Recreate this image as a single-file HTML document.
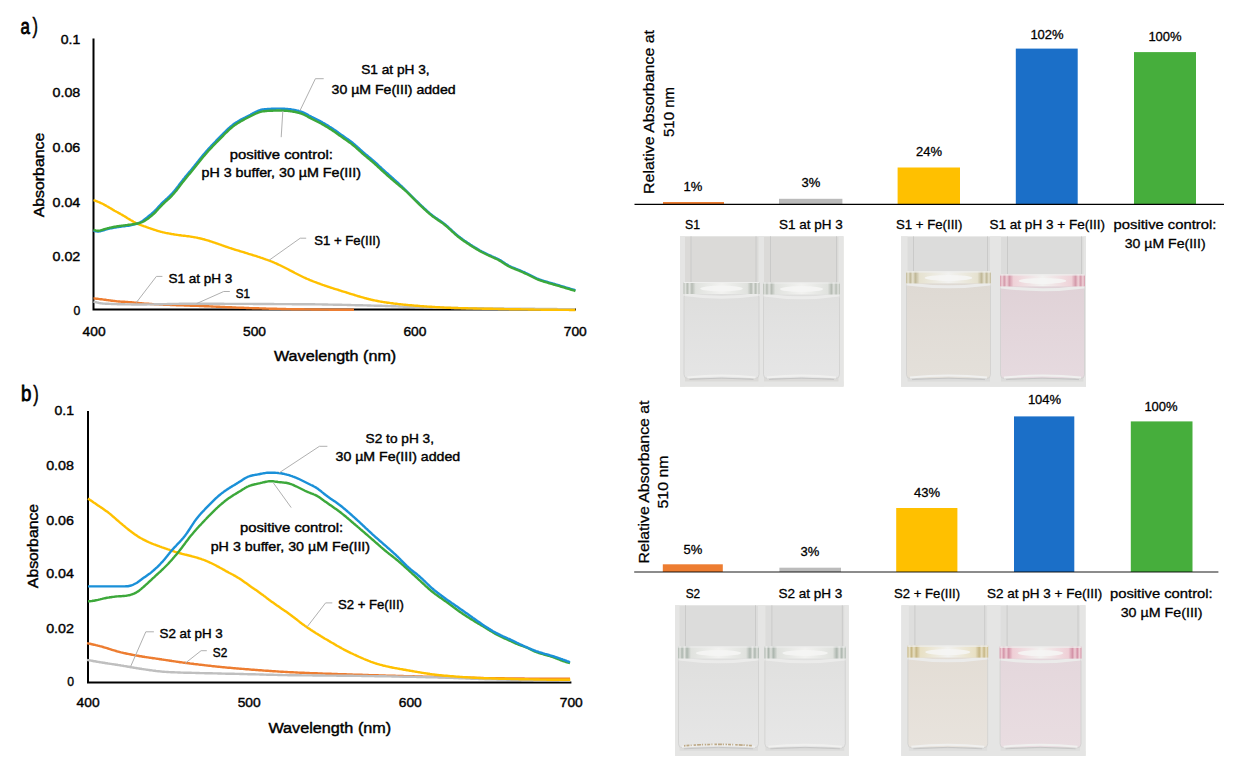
<!DOCTYPE html>
<html><head><meta charset="utf-8">
<style>
html,body{margin:0;padding:0;background:#fff;}
body{width:1243px;height:772px;position:relative;overflow:hidden;font-family:"Liberation Sans",sans-serif;}
svg{position:absolute;left:0;top:0;}
svg text{font-family:"Liberation Sans",sans-serif;}
.ph{position:absolute;background:linear-gradient(90deg,#e2e2e2 0,#dadada 6%,#d8d8d8 50%,#dadada 94%,#e0e0e0 100%);overflow:hidden;}
.vial{position:absolute;top:0;bottom:4px;border-left:1px solid #c4c4c4;border-right:1px solid #c4c4c4;box-sizing:border-box;}
.liq{position:absolute;}
.men{position:absolute;height:12px;}
</style></head><body>
<svg width="1243" height="772" viewBox="0 0 1243 772">
<defs><linearGradient id="lqp1_0" x1="0" y1="0" x2="0" y2="1"><stop offset="0" stop-color="#dededd"/><stop offset="1" stop-color="#e5e5e5"/></linearGradient><linearGradient id="rmp1_0" x1="0" y1="0" x2="1" y2="0"><stop offset="0" stop-color="#b6bcb4"/><stop offset="0.025" stop-color="#e0e2de"/><stop offset="0.05" stop-color="#b6bcb4"/><stop offset="0.08" stop-color="#e0e2de"/><stop offset="0.11" stop-color="#b6bcb4"/><stop offset="0.16" stop-color="#e0e2de"/><stop offset="0.5" stop-color="#f2f2f0"/><stop offset="0.84" stop-color="#e0e2de"/><stop offset="0.89" stop-color="#b6bcb4"/><stop offset="0.92" stop-color="#e0e2de"/><stop offset="0.95" stop-color="#b6bcb4"/><stop offset="0.975" stop-color="#e0e2de"/><stop offset="1" stop-color="#b6bcb4"/></linearGradient><linearGradient id="lqp1_1" x1="0" y1="0" x2="0" y2="1"><stop offset="0" stop-color="#dfdfde"/><stop offset="1" stop-color="#e6e6e6"/></linearGradient><linearGradient id="rmp1_1" x1="0" y1="0" x2="1" y2="0"><stop offset="0" stop-color="#b6bcb4"/><stop offset="0.025" stop-color="#e0e2de"/><stop offset="0.05" stop-color="#b6bcb4"/><stop offset="0.08" stop-color="#e0e2de"/><stop offset="0.11" stop-color="#b6bcb4"/><stop offset="0.16" stop-color="#e0e2de"/><stop offset="0.5" stop-color="#f2f2f0"/><stop offset="0.84" stop-color="#e0e2de"/><stop offset="0.89" stop-color="#b6bcb4"/><stop offset="0.92" stop-color="#e0e2de"/><stop offset="0.95" stop-color="#b6bcb4"/><stop offset="0.975" stop-color="#e0e2de"/><stop offset="1" stop-color="#b6bcb4"/></linearGradient><linearGradient id="lqp2_0" x1="0" y1="0" x2="0" y2="1"><stop offset="0" stop-color="#ded9d3"/><stop offset="1" stop-color="#e4e0da"/></linearGradient><linearGradient id="rmp2_0" x1="0" y1="0" x2="1" y2="0"><stop offset="0" stop-color="#c0b898"/><stop offset="0.025" stop-color="#e6e2d0"/><stop offset="0.05" stop-color="#c0b898"/><stop offset="0.08" stop-color="#e6e2d0"/><stop offset="0.11" stop-color="#c0b898"/><stop offset="0.16" stop-color="#e6e2d0"/><stop offset="0.5" stop-color="#f2f2f0"/><stop offset="0.84" stop-color="#e6e2d0"/><stop offset="0.89" stop-color="#c0b898"/><stop offset="0.92" stop-color="#e6e2d0"/><stop offset="0.95" stop-color="#c0b898"/><stop offset="0.975" stop-color="#e6e2d0"/><stop offset="1" stop-color="#c0b898"/></linearGradient><linearGradient id="lqp2_1" x1="0" y1="0" x2="0" y2="1"><stop offset="0" stop-color="#e0d2d7"/><stop offset="1" stop-color="#e6dadf"/></linearGradient><linearGradient id="rmp2_1" x1="0" y1="0" x2="1" y2="0"><stop offset="0" stop-color="#d49aaa"/><stop offset="0.025" stop-color="#efd2d8"/><stop offset="0.05" stop-color="#d49aaa"/><stop offset="0.08" stop-color="#efd2d8"/><stop offset="0.11" stop-color="#d49aaa"/><stop offset="0.16" stop-color="#efd2d8"/><stop offset="0.5" stop-color="#f2f2f0"/><stop offset="0.84" stop-color="#efd2d8"/><stop offset="0.89" stop-color="#d49aaa"/><stop offset="0.92" stop-color="#efd2d8"/><stop offset="0.95" stop-color="#d49aaa"/><stop offset="0.975" stop-color="#efd2d8"/><stop offset="1" stop-color="#d49aaa"/></linearGradient><linearGradient id="lqp3_0" x1="0" y1="0" x2="0" y2="1"><stop offset="0" stop-color="#dfdfde"/><stop offset="1" stop-color="#e6e6e6"/></linearGradient><linearGradient id="rmp3_0" x1="0" y1="0" x2="1" y2="0"><stop offset="0" stop-color="#acb6ae"/><stop offset="0.025" stop-color="#e0e2de"/><stop offset="0.05" stop-color="#acb6ae"/><stop offset="0.08" stop-color="#e0e2de"/><stop offset="0.11" stop-color="#acb6ae"/><stop offset="0.16" stop-color="#e0e2de"/><stop offset="0.5" stop-color="#f2f2f0"/><stop offset="0.84" stop-color="#e0e2de"/><stop offset="0.89" stop-color="#acb6ae"/><stop offset="0.92" stop-color="#e0e2de"/><stop offset="0.95" stop-color="#acb6ae"/><stop offset="0.975" stop-color="#e0e2de"/><stop offset="1" stop-color="#acb6ae"/></linearGradient><linearGradient id="lqp3_1" x1="0" y1="0" x2="0" y2="1"><stop offset="0" stop-color="#e0e0df"/><stop offset="1" stop-color="#e7e7e7"/></linearGradient><linearGradient id="rmp3_1" x1="0" y1="0" x2="1" y2="0"><stop offset="0" stop-color="#acb6ae"/><stop offset="0.025" stop-color="#e0e2de"/><stop offset="0.05" stop-color="#acb6ae"/><stop offset="0.08" stop-color="#e0e2de"/><stop offset="0.11" stop-color="#acb6ae"/><stop offset="0.16" stop-color="#e0e2de"/><stop offset="0.5" stop-color="#f2f2f0"/><stop offset="0.84" stop-color="#e0e2de"/><stop offset="0.89" stop-color="#acb6ae"/><stop offset="0.92" stop-color="#e0e2de"/><stop offset="0.95" stop-color="#acb6ae"/><stop offset="0.975" stop-color="#e0e2de"/><stop offset="1" stop-color="#acb6ae"/></linearGradient><linearGradient id="lqp4_0" x1="0" y1="0" x2="0" y2="1"><stop offset="0" stop-color="#e3ddd5"/><stop offset="1" stop-color="#e8e3dd"/></linearGradient><linearGradient id="rmp4_0" x1="0" y1="0" x2="1" y2="0"><stop offset="0" stop-color="#c6b684"/><stop offset="0.025" stop-color="#e8e0c4"/><stop offset="0.05" stop-color="#c6b684"/><stop offset="0.08" stop-color="#e8e0c4"/><stop offset="0.11" stop-color="#c6b684"/><stop offset="0.16" stop-color="#e8e0c4"/><stop offset="0.5" stop-color="#f2f2f0"/><stop offset="0.84" stop-color="#e8e0c4"/><stop offset="0.89" stop-color="#c6b684"/><stop offset="0.92" stop-color="#e8e0c4"/><stop offset="0.95" stop-color="#c6b684"/><stop offset="0.975" stop-color="#e8e0c4"/><stop offset="1" stop-color="#c6b684"/></linearGradient><linearGradient id="lqp4_1" x1="0" y1="0" x2="0" y2="1"><stop offset="0" stop-color="#e4d7dc"/><stop offset="1" stop-color="#e9dde1"/></linearGradient><linearGradient id="rmp4_1" x1="0" y1="0" x2="1" y2="0"><stop offset="0" stop-color="#d494a8"/><stop offset="0.025" stop-color="#efcfd6"/><stop offset="0.05" stop-color="#d494a8"/><stop offset="0.08" stop-color="#efcfd6"/><stop offset="0.11" stop-color="#d494a8"/><stop offset="0.16" stop-color="#efcfd6"/><stop offset="0.5" stop-color="#f2f2f0"/><stop offset="0.84" stop-color="#efcfd6"/><stop offset="0.89" stop-color="#d494a8"/><stop offset="0.92" stop-color="#efcfd6"/><stop offset="0.95" stop-color="#d494a8"/><stop offset="0.975" stop-color="#efcfd6"/><stop offset="1" stop-color="#d494a8"/></linearGradient></defs><rect x="680" y="236.3" width="163.5" height="150.2" fill="#dbdad8"/>
<rect x="680" y="236.3" width="5.0" height="150.2" fill="#e5e5e4"/>
<rect x="838.5" y="236.3" width="5.0" height="150.2" fill="#e5e5e4"/>
<rect x="758.5" y="236.3" width="5.5" height="150.2" fill="#e5e5e4"/>
<rect x="680" y="381.5" width="163.5" height="5" fill="#e5e5e4"/>
<path d="M691.0 236.3 V282.0 M756.0 236.3 V282.0" stroke="#cacac9" stroke-width="1" fill="none"/>
<rect x="684.0" y="293.0" width="75.0" height="85.5" rx="4" fill="url(#lqp1_0)" stroke="#cfcfce" stroke-width="0.8"/>
<path d="M687.5 377.5 Q721.5 373.5 755.5 377.5" stroke="#f0f0ef" stroke-width="2" fill="none"/>
<path d="M689.5 379.5 Q721.5 376.5 753.5 379.5" stroke="#c2c2c1" stroke-width="0.8" fill="none"/>
<path d="M684.5 294.5 Q721.5 300.0 758.5 294.5" stroke="#ebebea" stroke-width="3" fill="none"/>
<rect x="683.5" y="282.0" width="76.0" height="12" fill="url(#rmp1_0)"/>
<ellipse cx="721.5" cy="288.5" rx="21.3" ry="3" fill="#f6f6f4" opacity="0.85"/>
<path d="M683.5 282.5 H759.5" stroke="#eeeeed" stroke-width="1.2"/>
<path d="M770.5 236.3 V282.5 M836.5 236.3 V282.5" stroke="#cacac9" stroke-width="1" fill="none"/>
<rect x="763.5" y="293.5" width="76.0" height="85.0" rx="4" fill="url(#lqp1_1)" stroke="#cfcfce" stroke-width="0.8"/>
<path d="M767.0 377.5 Q801.5 373.5 836.0 377.5" stroke="#f0f0ef" stroke-width="2" fill="none"/>
<path d="M769.0 379.5 Q801.5 376.5 834.0 379.5" stroke="#c2c2c1" stroke-width="0.8" fill="none"/>
<path d="M764.0 295.0 Q801.5 300.5 839.0 295.0" stroke="#ebebea" stroke-width="3" fill="none"/>
<rect x="763.0" y="282.5" width="77.0" height="12" fill="url(#rmp1_1)"/>
<ellipse cx="801.5" cy="289.0" rx="21.6" ry="3" fill="#f6f6f4" opacity="0.85"/>
<path d="M763.0 283.0 H840.0" stroke="#eeeeed" stroke-width="1.2"/>
<rect x="901" y="236.4" width="185.0" height="150.2" fill="#dcdcdb"/>
<rect x="901" y="236.4" width="6.5" height="150.2" fill="#e5e5e4"/>
<rect x="1083.5" y="236.4" width="2.5" height="150.2" fill="#e5e5e4"/>
<rect x="990" y="236.4" width="11.0" height="150.2" fill="#e5e5e4"/>
<rect x="901" y="381.6" width="185.0" height="5" fill="#e5e5e4"/>
<path d="M913.5 236.4 V271.4 M987.5 236.4 V271.4" stroke="#cacac9" stroke-width="1" fill="none"/>
<rect x="906.5" y="282.4" width="84.0" height="96.2" rx="4" fill="url(#lqp2_0)" stroke="#cfcfce" stroke-width="0.8"/>
<path d="M910.0 377.6 Q948.5 373.6 987.0 377.6" stroke="#f0f0ef" stroke-width="2" fill="none"/>
<path d="M912.0 379.6 Q948.5 376.6 985.0 379.6" stroke="#c2c2c1" stroke-width="0.8" fill="none"/>
<path d="M907.0 283.9 Q948.5 289.4 990.0 283.9" stroke="#ebebea" stroke-width="3" fill="none"/>
<rect x="906.0" y="271.4" width="85.0" height="12" fill="url(#rmp2_0)"/>
<ellipse cx="948.5" cy="277.9" rx="23.8" ry="3" fill="#f6f6f4" opacity="0.85"/>
<path d="M906.0 271.9 H991.0" stroke="#eeeeed" stroke-width="1.2"/>
<path d="M1007.5 236.4 V274.4 M1081.5 236.4 V274.4" stroke="#cacac9" stroke-width="1" fill="none"/>
<rect x="1000.5" y="285.4" width="84.0" height="93.2" rx="4" fill="url(#lqp2_1)" stroke="#cfcfce" stroke-width="0.8"/>
<path d="M1004.0 377.6 Q1042.5 373.6 1081.0 377.6" stroke="#f0f0ef" stroke-width="2" fill="none"/>
<path d="M1006.0 379.6 Q1042.5 376.6 1079.0 379.6" stroke="#c2c2c1" stroke-width="0.8" fill="none"/>
<path d="M1001.0 286.9 Q1042.5 292.4 1084.0 286.9" stroke="#ebebea" stroke-width="3" fill="none"/>
<rect x="1000.0" y="274.4" width="85.0" height="12" fill="url(#rmp2_1)"/>
<ellipse cx="1042.5" cy="280.9" rx="23.8" ry="3" fill="#f6f6f4" opacity="0.85"/>
<path d="M1000.0 274.9 H1085.0" stroke="#eeeeed" stroke-width="1.2"/>
<rect x="675" y="605.3" width="173.7" height="150.5" fill="#dcdcdb"/>
<rect x="675" y="605.3" width="4.5" height="150.5" fill="#e5e5e4"/>
<rect x="844.3" y="605.3" width="4.4" height="150.5" fill="#e5e5e4"/>
<rect x="758" y="605.3" width="7.4" height="150.5" fill="#e5e5e4"/>
<rect x="675" y="750.8" width="173.7" height="5" fill="#e5e5e4"/>
<path d="M685.5 605.3 V646.5 M755.5 605.3 V646.5" stroke="#cacac9" stroke-width="1" fill="none"/>
<rect x="678.5" y="657.5" width="80.0" height="90.3" rx="4" fill="url(#lqp3_0)" stroke="#cfcfce" stroke-width="0.8"/>
<path d="M682.0 746.8 Q718.5 742.8 755.0 746.8" stroke="#f0f0ef" stroke-width="2" fill="none"/>
<path d="M684.0 748.8 Q718.5 745.8 753.0 748.8" stroke="#c2c2c1" stroke-width="0.8" fill="none"/>
<path d="M679.0 659.0 Q718.5 664.5 758.0 659.0" stroke="#ebebea" stroke-width="3" fill="none"/>
<rect x="678.0" y="646.5" width="81.0" height="12" fill="url(#rmp3_0)"/>
<ellipse cx="718.5" cy="653.0" rx="22.7" ry="3" fill="#f6f6f4" opacity="0.85"/>
<path d="M678.0 647.0 H759.0" stroke="#eeeeed" stroke-width="1.2"/>
<path d="M771.9 605.3 V646.5 M842.3 605.3 V646.5" stroke="#cacac9" stroke-width="1" fill="none"/>
<rect x="764.9" y="657.5" width="80.4" height="90.3" rx="4" fill="url(#lqp3_1)" stroke="#cfcfce" stroke-width="0.8"/>
<path d="M768.4 746.8 Q805.1 742.8 841.8 746.8" stroke="#f0f0ef" stroke-width="2" fill="none"/>
<path d="M770.4 748.8 Q805.1 745.8 839.8 748.8" stroke="#c2c2c1" stroke-width="0.8" fill="none"/>
<path d="M765.4 659.0 Q805.1 664.5 844.8 659.0" stroke="#ebebea" stroke-width="3" fill="none"/>
<rect x="764.4" y="646.5" width="81.4" height="12" fill="url(#rmp3_1)"/>
<ellipse cx="805.1" cy="653.0" rx="22.8" ry="3" fill="#f6f6f4" opacity="0.85"/>
<path d="M764.4 647.0 H845.8" stroke="#eeeeed" stroke-width="1.2"/>
<rect x="901.4" y="605.3" width="184.1" height="150.5" fill="#dededd"/>
<rect x="901.4" y="605.3" width="7.5" height="150.5" fill="#e5e5e4"/>
<rect x="1080.0" y="605.3" width="5.5" height="150.5" fill="#e5e5e4"/>
<rect x="987.2" y="605.3" width="13.4" height="150.5" fill="#e5e5e4"/>
<rect x="901.4" y="750.8" width="184.1" height="5" fill="#e5e5e4"/>
<path d="M914.9 605.3 V645.6 M984.7 605.3 V645.6" stroke="#cacac9" stroke-width="1" fill="none"/>
<rect x="907.9" y="656.6" width="79.8" height="91.2" rx="4" fill="url(#lqp4_0)" stroke="#cfcfce" stroke-width="0.8"/>
<path d="M911.4 746.8 Q947.8 742.8 984.2 746.8" stroke="#f0f0ef" stroke-width="2" fill="none"/>
<path d="M913.4 748.8 Q947.8 745.8 982.2 748.8" stroke="#c2c2c1" stroke-width="0.8" fill="none"/>
<path d="M908.4 658.1 Q947.8 663.6 987.2 658.1" stroke="#ebebea" stroke-width="3" fill="none"/>
<rect x="907.4" y="645.6" width="80.8" height="12" fill="url(#rmp4_0)"/>
<ellipse cx="947.8" cy="652.1" rx="22.6" ry="3" fill="#f6f6f4" opacity="0.85"/>
<path d="M907.4 646.1 H988.2" stroke="#eeeeed" stroke-width="1.2"/>
<path d="M1007.1 605.3 V646.6 M1078.0 605.3 V646.6" stroke="#cacac9" stroke-width="1" fill="none"/>
<rect x="1000.1" y="657.6" width="80.9" height="90.2" rx="4" fill="url(#lqp4_1)" stroke="#cfcfce" stroke-width="0.8"/>
<path d="M1003.6 746.8 Q1040.5 742.8 1077.5 746.8" stroke="#f0f0ef" stroke-width="2" fill="none"/>
<path d="M1005.6 748.8 Q1040.5 745.8 1075.5 748.8" stroke="#c2c2c1" stroke-width="0.8" fill="none"/>
<path d="M1000.6 659.1 Q1040.5 664.6 1080.5 659.1" stroke="#ebebea" stroke-width="3" fill="none"/>
<rect x="999.6" y="646.6" width="81.9" height="12" fill="url(#rmp4_1)"/>
<ellipse cx="1040.5" cy="653.1" rx="22.9" ry="3" fill="#f6f6f4" opacity="0.85"/>
<path d="M999.6 647.1 H1081.5" stroke="#eeeeed" stroke-width="1.2"/>
<path d="M684 745.8 Q718 743 753 745.8" stroke="#bca886" stroke-width="1.7" stroke-dasharray="1.5 1 3 1.2 1 2 2.5 1 4 0.8 1.2 1.6" fill="none"/><text x="20.6" y="33.6" font-size="21.5" text-anchor="start" font-weight="normal" fill="#000" textLength="9.4" lengthAdjust="spacingAndGlyphs" stroke="#000" stroke-width="0.8">a</text>
<text x="32.4" y="33.4" font-size="21.5" text-anchor="start" font-weight="normal" fill="#000" textLength="5.5" lengthAdjust="spacingAndGlyphs" stroke="#000" stroke-width="0.5">)</text>
<text x="80.3" y="43.7" font-size="12.8" text-anchor="end" font-weight="normal" fill="#000" textLength="19.5" lengthAdjust="spacingAndGlyphs" stroke="#000" stroke-width="0.4">0.1</text>
<text x="80.3" y="97" font-size="12.8" text-anchor="end" font-weight="normal" fill="#000" textLength="27.8" lengthAdjust="spacingAndGlyphs" stroke="#000" stroke-width="0.4">0.08</text>
<text x="80.3" y="152" font-size="12.8" text-anchor="end" font-weight="normal" fill="#000" textLength="27.8" lengthAdjust="spacingAndGlyphs" stroke="#000" stroke-width="0.4">0.06</text>
<text x="80.3" y="207.1" font-size="12.8" text-anchor="end" font-weight="normal" fill="#000" textLength="27.8" lengthAdjust="spacingAndGlyphs" stroke="#000" stroke-width="0.4">0.04</text>
<text x="80.3" y="260.5" font-size="12.8" text-anchor="end" font-weight="normal" fill="#000" textLength="27.8" lengthAdjust="spacingAndGlyphs" stroke="#000" stroke-width="0.4">0.02</text>
<text x="80.3" y="315.3" font-size="12.8" text-anchor="end" font-weight="normal" fill="#000" textLength="6.8" lengthAdjust="spacingAndGlyphs" stroke="#000" stroke-width="0.4">0</text>
<text x="94.1" y="335.9" font-size="12.8" text-anchor="middle" font-weight="normal" fill="#000" textLength="23" lengthAdjust="spacingAndGlyphs" stroke="#000" stroke-width="0.4">400</text>
<text x="254.5" y="335.9" font-size="12.8" text-anchor="middle" font-weight="normal" fill="#000" textLength="23" lengthAdjust="spacingAndGlyphs" stroke="#000" stroke-width="0.4">500</text>
<text x="414.9" y="335.9" font-size="12.8" text-anchor="middle" font-weight="normal" fill="#000" textLength="23" lengthAdjust="spacingAndGlyphs" stroke="#000" stroke-width="0.4">600</text>
<text x="575.3000000000001" y="335.9" font-size="12.8" text-anchor="middle" font-weight="normal" fill="#000" textLength="23" lengthAdjust="spacingAndGlyphs" stroke="#000" stroke-width="0.4">700</text>
<text x="335.1" y="360.8" font-size="14" text-anchor="middle" font-weight="normal" fill="#000" textLength="122.2" lengthAdjust="spacingAndGlyphs" stroke="#000" stroke-width="0.4">Wavelength (nm)</text>
<text transform="translate(43.6,175) rotate(-90)" font-size="14" stroke="#000" stroke-width="0.4" text-anchor="middle" textLength="84.5" lengthAdjust="spacingAndGlyphs">Absorbance</text>
<path d="M93.5 38.5 V309.6 H576" fill="none" stroke="#000" stroke-width="2"/>
<path d="M93.5 298.3 L94.5 298.4 L95.5 298.6 L96.5 298.7 L97.5 298.8 L98.5 298.9 L99.5 299.1 L100.5 299.2 L101.5 299.3 L102.5 299.4 L103.5 299.6 L104.5 299.7 L105.5 299.8 L106.5 300.0 L107.5 300.1 L108.5 300.2 L109.5 300.4 L110.5 300.5 L111.5 300.7 L112.5 300.8 L113.5 300.9 L114.5 301.0 L115.5 301.1 L116.5 301.3 L117.5 301.4 L118.5 301.5 L119.5 301.5 L120.5 301.6 L121.5 301.7 L122.5 301.7 L123.5 301.8 L124.5 301.8 L125.5 301.9 L126.5 301.9 L127.5 302.0 L128.5 302.1 L129.5 302.1 L130.5 302.2 L131.5 302.3 L132.5 302.4 L133.5 302.5 L134.5 302.6 L135.5 302.7 L136.5 302.8 L137.5 302.9 L138.5 303.0 L139.5 303.1 L140.5 303.2 L141.5 303.3 L142.5 303.4 L143.5 303.5 L144.5 303.6 L145.5 303.6 L146.5 303.7 L147.5 303.8 L148.5 303.8 L149.5 303.9 L150.5 304.0 L151.5 304.0 L152.5 304.1 L153.5 304.1 L154.5 304.2 L155.5 304.3 L156.5 304.3 L157.5 304.4 L158.5 304.4 L159.5 304.5 L160.5 304.5 L161.5 304.6 L162.5 304.6 L163.5 304.7 L164.5 304.7 L165.5 304.8 L166.5 304.8 L167.5 304.8 L168.5 304.9 L169.5 304.9 L170.5 305.0 L171.5 305.0 L172.5 305.0 L173.5 305.1 L174.5 305.1 L175.5 305.1 L176.5 305.2 L177.5 305.2 L178.5 305.2 L179.5 305.3 L180.5 305.3 L181.5 305.4 L182.5 305.4 L183.5 305.4 L184.5 305.5 L185.5 305.5 L186.5 305.5 L187.5 305.6 L188.5 305.6 L189.5 305.6 L190.5 305.7 L191.5 305.7 L192.5 305.7 L193.5 305.8 L194.5 305.8 L195.5 305.8 L196.5 305.9 L197.5 305.9 L198.5 305.9 L199.5 306.0 L200.5 306.0 L201.5 306.1 L202.5 306.1 L203.5 306.1 L204.5 306.2 L205.5 306.2 L206.5 306.3 L207.5 306.3 L208.5 306.3 L209.5 306.4 L210.5 306.4 L211.5 306.5 L212.5 306.5 L213.5 306.6 L214.5 306.6 L215.5 306.6 L216.5 306.7 L217.5 306.7 L218.5 306.8 L219.5 306.8 L220.5 306.9 L221.5 306.9 L222.5 307.0 L223.5 307.0 L224.5 307.0 L225.5 307.1 L226.5 307.1 L227.5 307.2 L228.5 307.2 L229.5 307.3 L230.5 307.3 L231.5 307.3 L232.5 307.4 L233.5 307.4 L234.5 307.5 L235.5 307.5 L236.5 307.6 L237.5 307.6 L238.5 307.6 L239.5 307.7 L240.5 307.7 L241.5 307.8 L242.5 307.8 L243.5 307.8 L244.5 307.9 L245.5 307.9 L246.5 308.0 L247.5 308.0 L248.5 308.0 L249.5 308.1 L250.5 308.1 L251.5 308.1 L252.5 308.2 L253.5 308.2 L254.5 308.2 L255.5 308.3 L256.5 308.3 L257.5 308.3 L258.5 308.3 L259.5 308.4 L260.5 308.4 L261.5 308.4 L262.5 308.5 L263.5 308.5 L264.5 308.5 L265.5 308.5 L266.5 308.6 L267.5 308.6 L268.5 308.6 L269.5 308.7 L270.5 308.7 L271.5 308.7 L272.5 308.7 L273.5 308.8 L274.5 308.8 L275.5 308.8 L276.5 308.8 L277.5 308.9 L278.5 308.9 L279.5 308.9 L280.5 308.9 L281.5 309.0 L282.5 309.0 L283.5 309.0 L284.5 309.0 L285.5 309.0 L286.5 309.1 L287.5 309.1 L288.5 309.1 L289.5 309.1 L290.5 309.1 L291.5 309.2 L292.5 309.2 L293.5 309.2 L294.5 309.2 L295.5 309.2 L296.5 309.2 L297.5 309.3 L298.5 309.3 L299.5 309.3 L300.5 309.3 L301.5 309.3 L302.5 309.3 L303.5 309.3 L304.5 309.4 L305.5 309.4 L306.5 309.4 L307.5 309.4 L308.5 309.4 L309.5 309.4 L310.5 309.4 L311.5 309.5 L312.5 309.5 L313.5 309.5 L314.5 309.5 L315.5 309.5 L316.5 309.5 L317.5 309.5 L318.5 309.5 L319.5 309.5 L320.5 309.6 L321.5 309.6 L322.5 309.6 L323.5 309.6 L324.5 309.6 L325.5 309.6 L326.5 309.6 L327.5 309.6 L328.5 309.6 L329.5 309.7 L330.5 309.7 L331.5 309.7 L332.5 309.7 L333.5 309.7 L334.5 309.7 L335.5 309.7 L336.5 309.7 L337.5 309.7 L338.5 309.7 L339.5 309.7 L340.5 309.7 L341.5 309.8 L342.5 309.8 L343.5 309.8 L344.5 309.8 L345.5 309.8 L346.5 309.8 L347.5 309.8 L348.5 309.8 L349.5 309.8 L350.5 309.8 L351.5 309.8 L352.5 309.8 L353.5 309.8 L354.0 309.8" fill="none" stroke="#ED7D31" stroke-width="2.4" stroke-linejoin="round"/>
<path d="M93.5 301.5 L94.5 301.8 L95.5 302.1 L96.5 302.3 L97.5 302.6 L98.5 302.8 L99.5 303.1 L100.5 303.2 L101.5 303.4 L102.5 303.5 L103.5 303.6 L104.5 303.6 L105.5 303.7 L106.5 303.7 L107.5 303.8 L108.5 303.8 L109.5 303.9 L110.5 303.9 L111.5 304.0 L112.5 304.0 L113.5 304.0 L114.5 304.1 L115.5 304.1 L116.5 304.1 L117.5 304.2 L118.5 304.2 L119.5 304.2 L120.5 304.3 L121.5 304.3 L122.5 304.3 L123.5 304.3 L124.5 304.3 L125.5 304.4 L126.5 304.4 L127.5 304.4 L128.5 304.4 L129.5 304.4 L130.5 304.4 L131.5 304.5 L132.5 304.5 L133.5 304.5 L134.5 304.5 L135.5 304.5 L136.5 304.5 L137.5 304.5 L138.5 304.5 L139.5 304.5 L140.5 304.5 L141.5 304.5 L142.5 304.5 L143.5 304.5 L144.5 304.5 L145.5 304.5 L146.5 304.5 L147.5 304.4 L148.5 304.4 L149.5 304.4 L150.5 304.4 L151.5 304.4 L152.5 304.4 L153.5 304.4 L154.5 304.3 L155.5 304.3 L156.5 304.3 L157.5 304.3 L158.5 304.3 L159.5 304.2 L160.5 304.2 L161.5 304.2 L162.5 304.2 L163.5 304.1 L164.5 304.1 L165.5 304.1 L166.5 304.1 L167.5 304.0 L168.5 304.0 L169.5 304.0 L170.5 304.0 L171.5 304.0 L172.5 303.9 L173.5 303.9 L174.5 303.9 L175.5 303.9 L176.5 303.9 L177.5 303.9 L178.5 303.9 L179.5 303.8 L180.5 303.8 L181.5 303.8 L182.5 303.8 L183.5 303.8 L184.5 303.8 L185.5 303.8 L186.5 303.8 L187.5 303.8 L188.5 303.8 L189.5 303.8 L190.5 303.8 L191.5 303.8 L192.5 303.8 L193.5 303.8 L194.5 303.8 L195.5 303.8 L196.5 303.8 L197.5 303.8 L198.5 303.8 L199.5 303.8 L200.5 303.8 L201.5 303.8 L202.5 303.8 L203.5 303.8 L204.5 303.8 L205.5 303.8 L206.5 303.8 L207.5 303.8 L208.5 303.8 L209.5 303.8 L210.5 303.8 L211.5 303.8 L212.5 303.8 L213.5 303.8 L214.5 303.8 L215.5 303.8 L216.5 303.8 L217.5 303.8 L218.5 303.8 L219.5 303.8 L220.5 303.8 L221.5 303.8 L222.5 303.8 L223.5 303.8 L224.5 303.9 L225.5 303.9 L226.5 303.9 L227.5 303.9 L228.5 303.9 L229.5 303.9 L230.5 303.9 L231.5 303.9 L232.5 303.9 L233.5 303.9 L234.5 303.9 L235.5 303.9 L236.5 303.9 L237.5 303.9 L238.5 303.9 L239.5 303.9 L240.5 303.9 L241.5 303.9 L242.5 303.9 L243.5 303.9 L244.5 303.9 L245.5 303.9 L246.5 303.9 L247.5 303.9 L248.5 303.9 L249.5 303.9 L250.5 303.9 L251.5 303.9 L252.5 303.9 L253.5 304.0 L254.5 304.0 L255.5 304.0 L256.5 304.0 L257.5 304.0 L258.5 304.0 L259.5 304.0 L260.5 304.0 L261.5 304.0 L262.5 304.0 L263.5 304.0 L264.5 304.0 L265.5 304.0 L266.5 304.0 L267.5 304.0 L268.5 304.0 L269.5 304.0 L270.5 304.0 L271.5 304.0 L272.5 304.0 L273.5 304.0 L274.5 304.1 L275.5 304.1 L276.5 304.1 L277.5 304.1 L278.5 304.1 L279.5 304.1 L280.5 304.1 L281.5 304.1 L282.5 304.1 L283.5 304.1 L284.5 304.1 L285.5 304.1 L286.5 304.1 L287.5 304.1 L288.5 304.1 L289.5 304.1 L290.5 304.1 L291.5 304.1 L292.5 304.2 L293.5 304.2 L294.5 304.2 L295.5 304.2 L296.5 304.2 L297.5 304.2 L298.5 304.2 L299.5 304.2 L300.5 304.2 L301.5 304.2 L302.5 304.2 L303.5 304.2 L304.5 304.2 L305.5 304.2 L306.5 304.3 L307.5 304.3 L308.5 304.3 L309.5 304.3 L310.5 304.3 L311.5 304.3 L312.5 304.3 L313.5 304.3 L314.5 304.3 L315.5 304.4 L316.5 304.4 L317.5 304.4 L318.5 304.4 L319.5 304.4 L320.5 304.4 L321.5 304.4 L322.5 304.5 L323.5 304.5 L324.5 304.5 L325.5 304.5 L326.5 304.5 L327.5 304.5 L328.5 304.6 L329.5 304.6 L330.5 304.6 L331.5 304.6 L332.5 304.6 L333.5 304.7 L334.5 304.7 L335.5 304.7 L336.5 304.7 L337.5 304.7 L338.5 304.8 L339.5 304.8 L340.5 304.8 L341.5 304.8 L342.5 304.9 L343.5 304.9 L344.5 304.9 L345.5 304.9 L346.5 304.9 L347.5 305.0 L348.5 305.0 L349.5 305.0 L350.5 305.0 L351.5 305.1 L352.5 305.1 L353.5 305.1 L354.5 305.1 L355.5 305.2 L356.5 305.2 L357.5 305.2 L358.5 305.2 L359.5 305.3 L360.5 305.3 L361.5 305.3 L362.5 305.3 L363.5 305.4 L364.5 305.4 L365.5 305.4 L366.5 305.4 L367.5 305.5 L368.5 305.5 L369.5 305.5 L370.5 305.5 L371.5 305.6 L372.5 305.6 L373.5 305.6 L374.5 305.7 L375.5 305.7 L376.5 305.7 L377.5 305.7 L378.5 305.8 L379.5 305.8 L380.5 305.8 L381.5 305.8 L382.5 305.9 L383.5 305.9 L384.5 305.9 L385.5 306.0 L386.5 306.0 L387.5 306.0 L388.5 306.1 L389.5 306.1 L390.5 306.1 L391.5 306.2 L392.5 306.2 L393.5 306.3 L394.5 306.3 L395.5 306.3 L396.5 306.4 L397.5 306.4 L398.5 306.5 L399.5 306.5 L400.5 306.6 L401.5 306.6 L402.5 306.6 L403.5 306.7 L404.5 306.7 L405.5 306.8 L406.5 306.8 L407.5 306.9 L408.5 306.9 L409.5 306.9 L410.5 307.0 L411.5 307.0 L412.5 307.1 L413.5 307.1 L414.5 307.1 L415.5 307.2 L416.5 307.2 L417.5 307.2 L418.5 307.3 L419.5 307.3 L420.5 307.3 L421.5 307.4 L422.5 307.4 L423.5 307.4 L424.5 307.5 L425.5 307.5 L426.5 307.5 L427.5 307.5 L428.5 307.6 L429.5 307.6 L430.5 307.6 L431.5 307.6 L432.5 307.6 L433.5 307.7 L434.5 307.7 L435.5 307.7 L436.5 307.7 L437.5 307.7 L438.5 307.8 L439.5 307.8 L440.5 307.8 L441.5 307.8 L442.5 307.8 L443.5 307.8 L444.5 307.9 L445.5 307.9 L446.5 307.9 L447.5 307.9 L448.5 307.9 L449.5 307.9 L450.5 307.9 L451.5 308.0 L452.5 308.0 L453.5 308.0 L454.5 308.0 L455.5 308.0 L456.5 308.0 L457.5 308.0 L458.5 308.1 L459.5 308.1 L460.5 308.1 L461.5 308.1 L462.5 308.1 L463.5 308.1 L464.5 308.1 L465.5 308.1 L466.5 308.2 L467.5 308.2 L468.5 308.2 L469.5 308.2 L470.5 308.2 L471.5 308.2 L472.5 308.2 L473.5 308.2 L474.5 308.3 L475.5 308.3 L476.5 308.3 L477.5 308.3 L478.5 308.3 L479.5 308.3 L480.5 308.3 L481.5 308.3 L482.5 308.3 L483.5 308.3 L484.5 308.4 L485.5 308.4 L486.5 308.4 L487.5 308.4 L488.5 308.4 L489.5 308.4 L490.5 308.4 L491.5 308.4 L492.5 308.4 L493.5 308.5 L494.5 308.5 L495.5 308.5 L496.5 308.5 L497.5 308.5 L498.5 308.5 L499.5 308.5 L500.5 308.5 L501.5 308.5 L502.5 308.5 L503.5 308.5 L504.5 308.6 L505.5 308.6 L506.5 308.6 L507.5 308.6 L508.5 308.6 L509.5 308.6 L510.5 308.6 L511.5 308.6 L512.5 308.6 L513.5 308.6 L514.5 308.7 L515.5 308.7 L516.5 308.7 L517.5 308.7 L518.5 308.7 L519.5 308.7 L520.5 308.7 L521.5 308.7 L522.5 308.7 L523.5 308.7 L524.5 308.7 L525.5 308.8 L526.5 308.8 L527.5 308.8 L528.5 308.8 L529.5 308.8 L530.5 308.8 L531.5 308.8 L532.5 308.8 L533.5 308.8 L534.5 308.8 L535.5 308.9 L536.5 308.9 L537.5 308.9 L538.5 308.9 L539.5 308.9 L540.5 308.9 L541.5 308.9 L542.5 308.9 L543.5 308.9 L544.5 308.9 L545.5 308.9 L546.5 309.0 L547.5 309.0 L548.5 309.0 L549.5 309.0 L550.5 309.0 L551.5 309.0 L552.5 309.0 L553.5 309.0 L554.5 309.0 L555.5 309.0 L556.5 309.0 L557.5 309.1 L558.5 309.1 L559.5 309.1 L560.5 309.1 L561.5 309.1 L562.5 309.1 L563.5 309.1 L564.5 309.1 L565.5 309.1 L566.5 309.1 L567.5 309.1 L568.5 309.1 L569.5 309.2 L570.5 309.2 L571.5 309.2 L572.5 309.2 L573.5 309.2 L574.5 309.2 L575.0 309.2" fill="none" stroke="#BFBFBF" stroke-width="2.4" stroke-linejoin="round"/>
<path d="M93.5 200.1 L94.5 200.4 L95.5 200.8 L96.5 201.2 L97.5 201.6 L98.5 202.0 L99.5 202.4 L100.5 202.9 L101.5 203.3 L102.5 203.8 L103.5 204.3 L104.5 204.9 L105.5 205.4 L106.5 206.0 L107.5 206.5 L108.5 207.1 L109.5 207.7 L110.5 208.3 L111.5 208.9 L112.5 209.5 L113.5 210.1 L114.5 210.7 L115.5 211.2 L116.5 211.8 L117.5 212.3 L118.5 212.9 L119.5 213.4 L120.5 214.0 L121.5 214.5 L122.5 215.1 L123.5 215.7 L124.5 216.3 L125.5 216.9 L126.5 217.5 L127.5 218.2 L128.5 218.8 L129.5 219.4 L130.5 220.0 L131.5 220.5 L132.5 221.1 L133.5 221.7 L134.5 222.2 L135.5 222.8 L136.5 223.3 L137.5 223.8 L138.5 224.2 L139.5 224.6 L140.5 225.0 L141.5 225.4 L142.5 225.7 L143.5 226.1 L144.5 226.4 L145.5 226.7 L146.5 227.1 L147.5 227.4 L148.5 227.8 L149.5 228.1 L150.5 228.5 L151.5 228.8 L152.5 229.2 L153.5 229.5 L154.5 229.8 L155.5 230.1 L156.5 230.5 L157.5 230.8 L158.5 231.1 L159.5 231.4 L160.5 231.7 L161.5 231.9 L162.5 232.2 L163.5 232.4 L164.5 232.6 L165.5 232.9 L166.5 233.1 L167.5 233.2 L168.5 233.4 L169.5 233.6 L170.5 233.8 L171.5 234.0 L172.5 234.1 L173.5 234.3 L174.5 234.5 L175.5 234.6 L176.5 234.8 L177.5 234.9 L178.5 235.1 L179.5 235.2 L180.5 235.3 L181.5 235.5 L182.5 235.6 L183.5 235.7 L184.5 235.8 L185.5 235.9 L186.5 236.1 L187.5 236.2 L188.5 236.3 L189.5 236.4 L190.5 236.6 L191.5 236.8 L192.5 236.9 L193.5 237.1 L194.5 237.3 L195.5 237.4 L196.5 237.6 L197.5 237.8 L198.5 238.1 L199.5 238.3 L200.5 238.5 L201.5 238.7 L202.5 239.0 L203.5 239.2 L204.5 239.5 L205.5 239.8 L206.5 240.1 L207.5 240.4 L208.5 240.7 L209.5 241.0 L210.5 241.3 L211.5 241.6 L212.5 242.0 L213.5 242.3 L214.5 242.6 L215.5 243.0 L216.5 243.3 L217.5 243.7 L218.5 244.0 L219.5 244.4 L220.5 244.7 L221.5 245.1 L222.5 245.4 L223.5 245.8 L224.5 246.2 L225.5 246.5 L226.5 246.8 L227.5 247.2 L228.5 247.5 L229.5 247.9 L230.5 248.2 L231.5 248.5 L232.5 248.8 L233.5 249.2 L234.5 249.5 L235.5 249.8 L236.5 250.1 L237.5 250.4 L238.5 250.7 L239.5 251.0 L240.5 251.3 L241.5 251.6 L242.5 251.9 L243.5 252.2 L244.5 252.5 L245.5 252.8 L246.5 253.1 L247.5 253.4 L248.5 253.8 L249.5 254.1 L250.5 254.4 L251.5 254.7 L252.5 255.0 L253.5 255.3 L254.5 255.6 L255.5 255.9 L256.5 256.2 L257.5 256.6 L258.5 256.9 L259.5 257.2 L260.5 257.6 L261.5 257.9 L262.5 258.2 L263.5 258.6 L264.5 258.9 L265.5 259.3 L266.5 259.6 L267.5 260.0 L268.5 260.4 L269.5 260.7 L270.5 261.1 L271.5 261.5 L272.5 261.9 L273.5 262.3 L274.5 262.8 L275.5 263.2 L276.5 263.6 L277.5 264.1 L278.5 264.6 L279.5 265.0 L280.5 265.5 L281.5 266.0 L282.5 266.5 L283.5 267.0 L284.5 267.5 L285.5 268.0 L286.5 268.5 L287.5 269.0 L288.5 269.5 L289.5 270.1 L290.5 270.6 L291.5 271.1 L292.5 271.6 L293.5 272.1 L294.5 272.7 L295.5 273.2 L296.5 273.7 L297.5 274.2 L298.5 274.7 L299.5 275.2 L300.5 275.7 L301.5 276.2 L302.5 276.7 L303.5 277.2 L304.5 277.7 L305.5 278.1 L306.5 278.6 L307.5 279.0 L308.5 279.4 L309.5 279.9 L310.5 280.3 L311.5 280.7 L312.5 281.1 L313.5 281.5 L314.5 281.9 L315.5 282.2 L316.5 282.6 L317.5 283.0 L318.5 283.3 L319.5 283.7 L320.5 284.1 L321.5 284.4 L322.5 284.8 L323.5 285.1 L324.5 285.5 L325.5 285.8 L326.5 286.2 L327.5 286.5 L328.5 286.8 L329.5 287.2 L330.5 287.5 L331.5 287.8 L332.5 288.1 L333.5 288.5 L334.5 288.8 L335.5 289.1 L336.5 289.4 L337.5 289.7 L338.5 290.0 L339.5 290.3 L340.5 290.7 L341.5 291.0 L342.5 291.3 L343.5 291.6 L344.5 291.9 L345.5 292.2 L346.5 292.5 L347.5 292.8 L348.5 293.2 L349.5 293.5 L350.5 293.8 L351.5 294.1 L352.5 294.4 L353.5 294.7 L354.5 295.0 L355.5 295.3 L356.5 295.6 L357.5 296.0 L358.5 296.3 L359.5 296.5 L360.5 296.8 L361.5 297.1 L362.5 297.4 L363.5 297.7 L364.5 298.0 L365.5 298.2 L366.5 298.5 L367.5 298.8 L368.5 299.0 L369.5 299.3 L370.5 299.5 L371.5 299.8 L372.5 300.0 L373.5 300.2 L374.5 300.4 L375.5 300.6 L376.5 300.8 L377.5 301.0 L378.5 301.2 L379.5 301.4 L380.5 301.6 L381.5 301.7 L382.5 301.9 L383.5 302.1 L384.5 302.2 L385.5 302.4 L386.5 302.5 L387.5 302.7 L388.5 302.8 L389.5 302.9 L390.5 303.1 L391.5 303.2 L392.5 303.3 L393.5 303.5 L394.5 303.6 L395.5 303.7 L396.5 303.8 L397.5 303.9 L398.5 304.1 L399.5 304.2 L400.5 304.3 L401.5 304.4 L402.5 304.5 L403.5 304.6 L404.5 304.7 L405.5 304.8 L406.5 304.9 L407.5 305.0 L408.5 305.1 L409.5 305.2 L410.5 305.2 L411.5 305.3 L412.5 305.4 L413.5 305.5 L414.5 305.6 L415.5 305.7 L416.5 305.7 L417.5 305.8 L418.5 305.9 L419.5 306.0 L420.5 306.1 L421.5 306.1 L422.5 306.2 L423.5 306.3 L424.5 306.4 L425.5 306.4 L426.5 306.5 L427.5 306.6 L428.5 306.6 L429.5 306.7 L430.5 306.8 L431.5 306.8 L432.5 306.9 L433.5 307.0 L434.5 307.0 L435.5 307.1 L436.5 307.2 L437.5 307.2 L438.5 307.3 L439.5 307.3 L440.5 307.4 L441.5 307.4 L442.5 307.5 L443.5 307.5 L444.5 307.6 L445.5 307.6 L446.5 307.7 L447.5 307.7 L448.5 307.7 L449.5 307.8 L450.5 307.8 L451.5 307.9 L452.5 307.9 L453.5 307.9 L454.5 308.0 L455.5 308.0 L456.5 308.0 L457.5 308.0 L458.5 308.1 L459.5 308.1 L460.5 308.1 L461.5 308.2 L462.5 308.2 L463.5 308.2 L464.5 308.2 L465.5 308.3 L466.5 308.3 L467.5 308.3 L468.5 308.4 L469.5 308.4 L470.5 308.4 L471.5 308.4 L472.5 308.4 L473.5 308.5 L474.5 308.5 L475.5 308.5 L476.5 308.5 L477.5 308.6 L478.5 308.6 L479.5 308.6 L480.5 308.6 L481.5 308.6 L482.5 308.7 L483.5 308.7 L484.5 308.7 L485.5 308.7 L486.5 308.7 L487.5 308.8 L488.5 308.8 L489.5 308.8 L490.5 308.8 L491.5 308.8 L492.5 308.8 L493.5 308.9 L494.5 308.9 L495.5 308.9 L496.5 308.9 L497.5 308.9 L498.5 309.0 L499.5 309.0 L500.5 309.0 L501.5 309.0 L502.5 309.0 L503.5 309.0 L504.5 309.1 L505.5 309.1 L506.5 309.1 L507.5 309.1 L508.5 309.1 L509.5 309.2 L510.5 309.2 L511.5 309.2 L512.5 309.2 L513.5 309.2 L514.5 309.2 L515.5 309.3 L516.5 309.3 L517.5 309.3 L518.5 309.3 L519.5 309.3 L520.5 309.3 L521.5 309.4 L522.5 309.4 L523.5 309.4 L524.5 309.4 L525.5 309.4 L526.5 309.4 L527.5 309.4 L528.5 309.5 L529.5 309.5 L530.5 309.5 L531.5 309.5 L532.5 309.5 L533.5 309.5 L534.5 309.6 L535.5 309.6 L536.5 309.6 L537.5 309.6 L538.5 309.6 L539.5 309.6 L540.5 309.6 L541.5 309.7 L542.5 309.7 L543.5 309.7 L544.5 309.7 L545.5 309.7 L546.5 309.7 L547.5 309.7 L548.5 309.7 L549.5 309.8 L550.5 309.8 L551.5 309.8 L552.5 309.8 L553.5 309.8 L554.5 309.8 L555.5 309.8 L556.5 309.8 L557.5 309.8 L558.5 309.9 L559.5 309.9 L560.5 309.9 L561.5 309.9 L562.5 309.9 L563.5 309.9 L564.5 309.9 L565.5 309.9 L566.5 309.9 L567.5 309.9 L568.5 309.9 L569.5 310.0 L570.5 310.0 L571.5 310.0 L572.5 310.0 L573.5 310.0 L574.5 310.0 L575.4 310.0" fill="none" stroke="#FFC000" stroke-width="2.4" stroke-linejoin="round"/>
<path d="M93.5 230.6 L94.5 230.9 L95.5 231.2 L96.5 231.4 L97.5 231.5 L98.5 231.5 L99.5 231.4 L100.5 231.2 L101.5 230.9 L102.5 230.6 L103.5 230.3 L104.5 230.0 L105.5 229.7 L106.5 229.4 L107.5 229.1 L108.5 228.9 L109.5 228.6 L110.5 228.4 L111.5 228.2 L112.5 228.0 L113.5 227.8 L114.5 227.6 L115.5 227.5 L116.5 227.3 L117.5 227.1 L118.5 227.0 L119.5 226.8 L120.5 226.7 L121.5 226.6 L122.5 226.4 L123.5 226.3 L124.5 226.2 L125.5 226.1 L126.5 225.9 L127.5 225.8 L128.5 225.7 L129.5 225.5 L130.5 225.3 L131.5 225.1 L132.5 224.9 L133.5 224.6 L134.5 224.4 L135.5 224.1 L136.5 223.8 L137.5 223.5 L138.5 223.1 L139.5 222.7 L140.5 222.2 L141.5 221.6 L142.5 221.0 L143.5 220.3 L144.5 219.5 L145.5 218.7 L146.5 217.9 L147.5 217.1 L148.5 216.3 L149.5 215.5 L150.5 214.7 L151.5 213.9 L152.5 213.0 L153.5 212.1 L154.5 211.2 L155.5 210.1 L156.5 209.1 L157.5 208.0 L158.5 206.9 L159.5 205.8 L160.5 204.7 L161.5 203.6 L162.5 202.6 L163.5 201.7 L164.5 200.8 L165.5 199.9 L166.5 199.0 L167.5 198.1 L168.5 197.1 L169.5 196.2 L170.5 195.2 L171.5 194.1 L172.5 193.1 L173.5 191.9 L174.5 190.8 L175.5 189.6 L176.5 188.3 L177.5 187.0 L178.5 185.7 L179.5 184.3 L180.5 183.0 L181.5 181.7 L182.5 180.4 L183.5 179.1 L184.5 177.9 L185.5 176.6 L186.5 175.4 L187.5 174.2 L188.5 173.0 L189.5 171.8 L190.5 170.7 L191.5 169.5 L192.5 168.2 L193.5 167.0 L194.5 165.8 L195.5 164.5 L196.5 163.3 L197.5 162.0 L198.5 160.8 L199.5 159.5 L200.5 158.2 L201.5 157.0 L202.5 155.8 L203.5 154.6 L204.5 153.4 L205.5 152.2 L206.5 151.1 L207.5 150.0 L208.5 148.9 L209.5 147.8 L210.5 146.7 L211.5 145.6 L212.5 144.6 L213.5 143.5 L214.5 142.5 L215.5 141.5 L216.5 140.4 L217.5 139.4 L218.5 138.4 L219.5 137.4 L220.5 136.4 L221.5 135.4 L222.5 134.4 L223.5 133.3 L224.5 132.3 L225.5 131.4 L226.5 130.4 L227.5 129.4 L228.5 128.5 L229.5 127.6 L230.5 126.7 L231.5 125.9 L232.5 125.1 L233.5 124.3 L234.5 123.6 L235.5 122.9 L236.5 122.3 L237.5 121.7 L238.5 121.1 L239.5 120.5 L240.5 119.9 L241.5 119.3 L242.5 118.8 L243.5 118.3 L244.5 117.8 L245.5 117.3 L246.5 116.7 L247.5 116.2 L248.5 115.7 L249.5 115.2 L250.5 114.7 L251.5 114.1 L252.5 113.6 L253.5 113.0 L254.5 112.5 L255.5 112.0 L256.5 111.5 L257.5 111.1 L258.5 110.7 L259.5 110.3 L260.5 110.0 L261.5 109.7 L262.5 109.5 L263.5 109.4 L264.5 109.3 L265.5 109.2 L266.5 109.1 L267.5 109.0 L268.5 109.0 L269.5 108.9 L270.5 108.9 L271.5 108.8 L272.5 108.8 L273.5 108.7 L274.5 108.7 L275.5 108.7 L276.5 108.6 L277.5 108.6 L278.5 108.6 L279.5 108.6 L280.5 108.6 L281.5 108.7 L282.5 108.7 L283.5 108.7 L284.5 108.8 L285.5 108.9 L286.5 108.9 L287.5 109.0 L288.5 109.1 L289.5 109.2 L290.5 109.3 L291.5 109.5 L292.5 109.6 L293.5 109.8 L294.5 109.9 L295.5 110.1 L296.5 110.4 L297.5 110.6 L298.5 110.8 L299.5 111.1 L300.5 111.4 L301.5 111.8 L302.5 112.2 L303.5 112.6 L304.5 113.1 L305.5 113.6 L306.5 114.1 L307.5 114.6 L308.5 115.2 L309.5 115.7 L310.5 116.2 L311.5 116.8 L312.5 117.3 L313.5 117.8 L314.5 118.3 L315.5 118.8 L316.5 119.3 L317.5 119.8 L318.5 120.3 L319.5 120.8 L320.5 121.4 L321.5 121.9 L322.5 122.5 L323.5 123.0 L324.5 123.6 L325.5 124.2 L326.5 124.8 L327.5 125.4 L328.5 126.0 L329.5 126.7 L330.5 127.3 L331.5 127.9 L332.5 128.6 L333.5 129.3 L334.5 129.9 L335.5 130.6 L336.5 131.3 L337.5 132.0 L338.5 132.8 L339.5 133.5 L340.5 134.2 L341.5 134.9 L342.5 135.6 L343.5 136.3 L344.5 137.0 L345.5 137.7 L346.5 138.4 L347.5 139.1 L348.5 139.8 L349.5 140.5 L350.5 141.2 L351.5 142.0 L352.5 142.8 L353.5 143.6 L354.5 144.4 L355.5 145.3 L356.5 146.2 L357.5 147.1 L358.5 148.0 L359.5 148.9 L360.5 149.8 L361.5 150.7 L362.5 151.6 L363.5 152.5 L364.5 153.3 L365.5 154.2 L366.5 155.0 L367.5 155.8 L368.5 156.6 L369.5 157.4 L370.5 158.3 L371.5 159.1 L372.5 160.0 L373.5 160.8 L374.5 161.7 L375.5 162.6 L376.5 163.5 L377.5 164.4 L378.5 165.4 L379.5 166.3 L380.5 167.2 L381.5 168.2 L382.5 169.1 L383.5 170.0 L384.5 170.9 L385.5 171.8 L386.5 172.7 L387.5 173.5 L388.5 174.4 L389.5 175.3 L390.5 176.2 L391.5 177.1 L392.5 178.0 L393.5 178.9 L394.5 179.8 L395.5 180.7 L396.5 181.6 L397.5 182.5 L398.5 183.4 L399.5 184.4 L400.5 185.3 L401.5 186.2 L402.5 187.2 L403.5 188.1 L404.5 189.1 L405.5 190.0 L406.5 191.0 L407.5 192.0 L408.5 193.0 L409.5 194.0 L410.5 195.0 L411.5 196.0 L412.5 197.0 L413.5 198.0 L414.5 199.0 L415.5 200.0 L416.5 201.0 L417.5 201.9 L418.5 202.9 L419.5 203.9 L420.5 204.8 L421.5 205.8 L422.5 206.7 L423.5 207.7 L424.5 208.6 L425.5 209.5 L426.5 210.4 L427.5 211.3 L428.5 212.2 L429.5 213.1 L430.5 213.9 L431.5 214.7 L432.5 215.5 L433.5 216.2 L434.5 216.9 L435.5 217.7 L436.5 218.3 L437.5 219.0 L438.5 219.7 L439.5 220.4 L440.5 221.0 L441.5 221.7 L442.5 222.4 L443.5 223.2 L444.5 224.0 L445.5 224.8 L446.5 225.6 L447.5 226.5 L448.5 227.4 L449.5 228.3 L450.5 229.2 L451.5 230.1 L452.5 231.1 L453.5 232.0 L454.5 232.9 L455.5 233.8 L456.5 234.6 L457.5 235.5 L458.5 236.3 L459.5 237.0 L460.5 237.8 L461.5 238.5 L462.5 239.3 L463.5 240.0 L464.5 240.7 L465.5 241.3 L466.5 242.0 L467.5 242.7 L468.5 243.3 L469.5 244.0 L470.5 244.7 L471.5 245.3 L472.5 246.0 L473.5 246.6 L474.5 247.2 L475.5 247.8 L476.5 248.4 L477.5 249.0 L478.5 249.6 L479.5 250.2 L480.5 250.7 L481.5 251.3 L482.5 251.8 L483.5 252.3 L484.5 252.8 L485.5 253.3 L486.5 253.8 L487.5 254.3 L488.5 254.7 L489.5 255.2 L490.5 255.6 L491.5 256.1 L492.5 256.5 L493.5 257.0 L494.5 257.4 L495.5 257.9 L496.5 258.3 L497.5 258.8 L498.5 259.3 L499.5 259.9 L500.5 260.4 L501.5 261.0 L502.5 261.7 L503.5 262.4 L504.5 263.0 L505.5 263.7 L506.5 264.3 L507.5 264.9 L508.5 265.5 L509.5 266.0 L510.5 266.5 L511.5 267.0 L512.5 267.4 L513.5 267.8 L514.5 268.2 L515.5 268.6 L516.5 269.0 L517.5 269.4 L518.5 269.8 L519.5 270.2 L520.5 270.6 L521.5 271.0 L522.5 271.5 L523.5 271.9 L524.5 272.4 L525.5 272.9 L526.5 273.3 L527.5 273.8 L528.5 274.3 L529.5 274.8 L530.5 275.3 L531.5 275.8 L532.5 276.3 L533.5 276.8 L534.5 277.3 L535.5 277.8 L536.5 278.3 L537.5 278.7 L538.5 279.1 L539.5 279.5 L540.5 279.8 L541.5 280.2 L542.5 280.5 L543.5 280.8 L544.5 281.1 L545.5 281.4 L546.5 281.7 L547.5 282.0 L548.5 282.3 L549.5 282.6 L550.5 282.9 L551.5 283.2 L552.5 283.5 L553.5 283.8 L554.5 284.0 L555.5 284.3 L556.5 284.6 L557.5 284.9 L558.5 285.2 L559.5 285.5 L560.5 285.8 L561.5 286.1 L562.5 286.4 L563.5 286.7 L564.5 287.0 L565.5 287.3 L566.5 287.6 L567.5 287.9 L568.5 288.2 L569.5 288.5 L570.5 288.8 L571.5 289.1 L572.5 289.4 L573.5 289.7 L574.5 290.0 L575.4 290.3" fill="none" stroke="#1A90D8" stroke-width="2.4" stroke-linejoin="round"/>
<path d="M93.5 229.8 L94.5 230.1 L95.5 230.4 L96.5 230.6 L97.5 230.7 L98.5 230.7 L99.5 230.6 L100.5 230.4 L101.5 230.1 L102.5 229.8 L103.5 229.5 L104.5 229.2 L105.5 228.9 L106.5 228.6 L107.5 228.3 L108.5 228.1 L109.5 227.8 L110.5 227.6 L111.5 227.4 L112.5 227.2 L113.5 227.0 L114.5 226.8 L115.5 226.7 L116.5 226.5 L117.5 226.3 L118.5 226.2 L119.5 226.0 L120.5 225.9 L121.5 225.7 L122.5 225.6 L123.5 225.5 L124.5 225.4 L125.5 225.2 L126.5 225.1 L127.5 225.0 L128.5 224.8 L129.5 224.7 L130.5 224.6 L131.5 224.4 L132.5 224.3 L133.5 224.1 L134.5 224.0 L135.5 223.8 L136.5 223.7 L137.5 223.5 L138.5 223.3 L139.5 223.0 L140.5 222.7 L141.5 222.4 L142.5 222.0 L143.5 221.5 L144.5 220.9 L145.5 220.3 L146.5 219.6 L147.5 218.9 L148.5 218.2 L149.5 217.4 L150.5 216.6 L151.5 215.8 L152.5 214.9 L153.5 214.0 L154.5 213.1 L155.5 212.1 L156.5 211.0 L157.5 209.9 L158.5 208.8 L159.5 207.7 L160.5 206.6 L161.5 205.6 L162.5 204.5 L163.5 203.6 L164.5 202.6 L165.5 201.7 L166.5 200.8 L167.5 199.9 L168.5 199.0 L169.5 198.1 L170.5 197.1 L171.5 196.1 L172.5 195.0 L173.5 193.9 L174.5 192.8 L175.5 191.6 L176.5 190.4 L177.5 189.1 L178.5 187.8 L179.5 186.4 L180.5 185.1 L181.5 183.8 L182.5 182.4 L183.5 181.2 L184.5 179.9 L185.5 178.7 L186.5 177.4 L187.5 176.2 L188.5 175.0 L189.5 173.9 L190.5 172.7 L191.5 171.5 L192.5 170.3 L193.5 169.1 L194.5 167.8 L195.5 166.6 L196.5 165.3 L197.5 164.1 L198.5 162.8 L199.5 161.6 L200.5 160.3 L201.5 159.0 L202.5 157.8 L203.5 156.6 L204.5 155.4 L205.5 154.2 L206.5 153.1 L207.5 151.9 L208.5 150.8 L209.5 149.7 L210.5 148.6 L211.5 147.6 L212.5 146.5 L213.5 145.4 L214.5 144.4 L215.5 143.4 L216.5 142.3 L217.5 141.3 L218.5 140.3 L219.5 139.3 L220.5 138.3 L221.5 137.3 L222.5 136.3 L223.5 135.3 L224.5 134.2 L225.5 133.2 L226.5 132.3 L227.5 131.3 L228.5 130.3 L229.5 129.4 L230.5 128.5 L231.5 127.7 L232.5 126.9 L233.5 126.1 L234.5 125.3 L235.5 124.6 L236.5 124.0 L237.5 123.3 L238.5 122.7 L239.5 122.1 L240.5 121.5 L241.5 121.0 L242.5 120.4 L243.5 119.9 L244.5 119.3 L245.5 118.8 L246.5 118.3 L247.5 117.8 L248.5 117.3 L249.5 116.8 L250.5 116.3 L251.5 115.8 L252.5 115.3 L253.5 114.8 L254.5 114.3 L255.5 113.8 L256.5 113.3 L257.5 112.9 L258.5 112.5 L259.5 112.2 L260.5 111.9 L261.5 111.6 L262.5 111.4 L263.5 111.3 L264.5 111.2 L265.5 111.1 L266.5 111.0 L267.5 110.9 L268.5 110.9 L269.5 110.8 L270.5 110.8 L271.5 110.7 L272.5 110.7 L273.5 110.6 L274.5 110.6 L275.5 110.6 L276.5 110.5 L277.5 110.5 L278.5 110.5 L279.5 110.5 L280.5 110.5 L281.5 110.6 L282.5 110.6 L283.5 110.6 L284.5 110.7 L285.5 110.8 L286.5 110.8 L287.5 110.9 L288.5 111.0 L289.5 111.1 L290.5 111.2 L291.5 111.4 L292.5 111.5 L293.5 111.7 L294.5 111.8 L295.5 112.0 L296.5 112.3 L297.5 112.5 L298.5 112.7 L299.5 113.0 L300.5 113.3 L301.5 113.7 L302.5 114.1 L303.5 114.5 L304.5 115.0 L305.5 115.5 L306.5 116.0 L307.5 116.5 L308.5 117.1 L309.5 117.6 L310.5 118.1 L311.5 118.7 L312.5 119.2 L313.5 119.7 L314.5 120.2 L315.5 120.7 L316.5 121.2 L317.5 121.7 L318.5 122.2 L319.5 122.7 L320.5 123.3 L321.5 123.8 L322.5 124.4 L323.5 124.9 L324.5 125.5 L325.5 126.1 L326.5 126.7 L327.5 127.3 L328.5 127.9 L329.5 128.6 L330.5 129.2 L331.5 129.8 L332.5 130.5 L333.5 131.2 L334.5 131.8 L335.5 132.5 L336.5 133.2 L337.5 133.9 L338.5 134.7 L339.5 135.4 L340.5 136.1 L341.5 136.8 L342.5 137.5 L343.5 138.2 L344.5 138.9 L345.5 139.6 L346.5 140.3 L347.5 141.0 L348.5 141.7 L349.5 142.4 L350.5 143.1 L351.5 143.9 L352.5 144.7 L353.5 145.5 L354.5 146.3 L355.5 147.2 L356.5 148.1 L357.5 149.0 L358.5 149.9 L359.5 150.8 L360.5 151.7 L361.5 152.6 L362.5 153.5 L363.5 154.4 L364.5 155.2 L365.5 156.1 L366.5 156.9 L367.5 157.7 L368.5 158.5 L369.5 159.3 L370.5 160.2 L371.5 161.0 L372.5 161.9 L373.5 162.7 L374.5 163.6 L375.5 164.5 L376.5 165.4 L377.5 166.3 L378.5 167.3 L379.5 168.2 L380.5 169.1 L381.5 170.1 L382.5 171.0 L383.5 171.9 L384.5 172.8 L385.5 173.7 L386.5 174.6 L387.5 175.5 L388.5 176.4 L389.5 177.2 L390.5 178.1 L391.5 179.0 L392.5 179.8 L393.5 180.7 L394.5 181.5 L395.5 182.4 L396.5 183.2 L397.5 184.0 L398.5 184.9 L399.5 185.7 L400.5 186.5 L401.5 187.3 L402.5 188.2 L403.5 189.0 L404.5 189.9 L405.5 190.8 L406.5 191.7 L407.5 192.6 L408.5 193.6 L409.5 194.6 L410.5 195.6 L411.5 196.6 L412.5 197.6 L413.5 198.6 L414.5 199.6 L415.5 200.6 L416.5 201.6 L417.5 202.6 L418.5 203.6 L419.5 204.6 L420.5 205.5 L421.5 206.5 L422.5 207.4 L423.5 208.4 L424.5 209.3 L425.5 210.2 L426.5 211.1 L427.5 212.0 L428.5 212.9 L429.5 213.8 L430.5 214.6 L431.5 215.4 L432.5 216.2 L433.5 216.9 L434.5 217.6 L435.5 218.4 L436.5 219.0 L437.5 219.7 L438.5 220.4 L439.5 221.1 L440.5 221.7 L441.5 222.4 L442.5 223.1 L443.5 223.9 L444.5 224.7 L445.5 225.5 L446.5 226.3 L447.5 227.2 L448.5 228.1 L449.5 229.0 L450.5 229.9 L451.5 230.8 L452.5 231.8 L453.5 232.7 L454.5 233.6 L455.5 234.5 L456.5 235.3 L457.5 236.2 L458.5 237.0 L459.5 237.7 L460.5 238.5 L461.5 239.2 L462.5 240.0 L463.5 240.7 L464.5 241.4 L465.5 242.0 L466.5 242.7 L467.5 243.4 L468.5 244.0 L469.5 244.7 L470.5 245.4 L471.5 246.0 L472.5 246.7 L473.5 247.3 L474.5 247.9 L475.5 248.5 L476.5 249.1 L477.5 249.7 L478.5 250.3 L479.5 250.9 L480.5 251.4 L481.5 252.0 L482.5 252.5 L483.5 253.0 L484.5 253.5 L485.5 254.0 L486.5 254.5 L487.5 255.0 L488.5 255.4 L489.5 255.9 L490.5 256.3 L491.5 256.8 L492.5 257.2 L493.5 257.7 L494.5 258.1 L495.5 258.6 L496.5 259.0 L497.5 259.5 L498.5 260.0 L499.5 260.6 L500.5 261.1 L501.5 261.7 L502.5 262.4 L503.5 263.1 L504.5 263.7 L505.5 264.4 L506.5 265.0 L507.5 265.6 L508.5 266.2 L509.5 266.7 L510.5 267.2 L511.5 267.7 L512.5 268.1 L513.5 268.5 L514.5 268.9 L515.5 269.3 L516.5 269.7 L517.5 270.1 L518.5 270.5 L519.5 270.9 L520.5 271.3 L521.5 271.7 L522.5 272.2 L523.5 272.6 L524.5 273.1 L525.5 273.6 L526.5 274.0 L527.5 274.5 L528.5 275.0 L529.5 275.5 L530.5 276.0 L531.5 276.5 L532.5 277.0 L533.5 277.5 L534.5 278.0 L535.5 278.5 L536.5 279.0 L537.5 279.4 L538.5 279.8 L539.5 280.2 L540.5 280.5 L541.5 280.9 L542.5 281.2 L543.5 281.5 L544.5 281.8 L545.5 282.1 L546.5 282.4 L547.5 282.7 L548.5 283.0 L549.5 283.3 L550.5 283.6 L551.5 283.9 L552.5 284.2 L553.5 284.5 L554.5 284.7 L555.5 285.0 L556.5 285.3 L557.5 285.6 L558.5 285.9 L559.5 286.2 L560.5 286.5 L561.5 286.8 L562.5 287.1 L563.5 287.4 L564.5 287.7 L565.5 288.0 L566.5 288.3 L567.5 288.6 L568.5 288.9 L569.5 289.2 L570.5 289.5 L571.5 289.8 L572.5 290.1 L573.5 290.4 L574.5 290.7 L575.4 291.0" fill="none" stroke="#3CA83A" stroke-width="2.4" stroke-linejoin="round"/>
<path d="M299.9 110.8 L315.4 78.7 H323.7" fill="none" stroke="#B0B0B0" stroke-width="1"/>
<path d="M282.8 111.3 L281.2 137.2" fill="none" stroke="#B0B0B0" stroke-width="1"/>
<path d="M269 260.3 L300.2 238.2 H306.2" fill="none" stroke="#B0B0B0" stroke-width="1"/>
<path d="M136.3 302.6 L156.4 276.4 H162.4" fill="none" stroke="#B0B0B0" stroke-width="1"/>
<path d="M196.6 303.6 L223.7 291.5 H229.8" fill="none" stroke="#B0B0B0" stroke-width="1"/>
<text x="361.2" y="74.2" font-size="13" text-anchor="start" font-weight="normal" fill="#000" textLength="68.4" lengthAdjust="spacingAndGlyphs" stroke="#000" stroke-width="0.4">S1 at pH 3,</text>
<text x="331.6" y="94" font-size="13" text-anchor="start" font-weight="normal" fill="#000" textLength="124" lengthAdjust="spacingAndGlyphs" stroke="#000" stroke-width="0.4">30 µM Fe(III) added</text>
<text x="229.7" y="159" font-size="13" text-anchor="start" font-weight="normal" fill="#000" textLength="103.2" lengthAdjust="spacingAndGlyphs" stroke="#000" stroke-width="0.4">positive control:</text>
<text x="201.5" y="177.4" font-size="13" text-anchor="start" font-weight="normal" fill="#000" textLength="159.4" lengthAdjust="spacingAndGlyphs" stroke="#000" stroke-width="0.4">pH 3 buffer, 30 µM Fe(III)</text>
<text x="314.3" y="244.7" font-size="13" text-anchor="start" font-weight="normal" fill="#000" textLength="66" lengthAdjust="spacingAndGlyphs" stroke="#000" stroke-width="0.4">S1 + Fe(III)</text>
<text x="168.4" y="282.5" font-size="13" text-anchor="start" font-weight="normal" fill="#000" textLength="64" lengthAdjust="spacingAndGlyphs" stroke="#000" stroke-width="0.4">S1 at pH 3</text>
<text x="235.8" y="298" font-size="13" text-anchor="start" font-weight="normal" fill="#000" textLength="14.2" lengthAdjust="spacingAndGlyphs" stroke="#000" stroke-width="0.4">S1</text>
<text x="21.1" y="401.1" font-size="21.5" text-anchor="start" font-weight="normal" fill="#000" textLength="10.4" lengthAdjust="spacingAndGlyphs" stroke="#000" stroke-width="0.8">b</text>
<text x="33.3" y="400.9" font-size="21.5" text-anchor="start" font-weight="normal" fill="#000" textLength="5.5" lengthAdjust="spacingAndGlyphs" stroke="#000" stroke-width="0.5">)</text>
<text x="74" y="414.7" font-size="12.8" text-anchor="end" font-weight="normal" fill="#000" textLength="19.5" lengthAdjust="spacingAndGlyphs" stroke="#000" stroke-width="0.4">0.1</text>
<text x="74" y="469.8" font-size="12.8" text-anchor="end" font-weight="normal" fill="#000" textLength="27.8" lengthAdjust="spacingAndGlyphs" stroke="#000" stroke-width="0.4">0.08</text>
<text x="74" y="524.7" font-size="12.8" text-anchor="end" font-weight="normal" fill="#000" textLength="27.8" lengthAdjust="spacingAndGlyphs" stroke="#000" stroke-width="0.4">0.06</text>
<text x="74" y="578.1" font-size="12.8" text-anchor="end" font-weight="normal" fill="#000" textLength="27.8" lengthAdjust="spacingAndGlyphs" stroke="#000" stroke-width="0.4">0.04</text>
<text x="74" y="633.1" font-size="12.8" text-anchor="end" font-weight="normal" fill="#000" textLength="27.8" lengthAdjust="spacingAndGlyphs" stroke="#000" stroke-width="0.4">0.02</text>
<text x="74" y="686.3" font-size="12.8" text-anchor="end" font-weight="normal" fill="#000" textLength="6.8" lengthAdjust="spacingAndGlyphs" stroke="#000" stroke-width="0.4">0</text>
<text x="88.1" y="706.9" font-size="12.8" text-anchor="middle" font-weight="normal" fill="#000" textLength="23" lengthAdjust="spacingAndGlyphs" stroke="#000" stroke-width="0.4">400</text>
<text x="249.17" y="706.9" font-size="12.8" text-anchor="middle" font-weight="normal" fill="#000" textLength="23" lengthAdjust="spacingAndGlyphs" stroke="#000" stroke-width="0.4">500</text>
<text x="410.24" y="706.9" font-size="12.8" text-anchor="middle" font-weight="normal" fill="#000" textLength="23" lengthAdjust="spacingAndGlyphs" stroke="#000" stroke-width="0.4">600</text>
<text x="571.31" y="706.9" font-size="12.8" text-anchor="middle" font-weight="normal" fill="#000" textLength="23" lengthAdjust="spacingAndGlyphs" stroke="#000" stroke-width="0.4">700</text>
<text x="329.8" y="732.5" font-size="14" text-anchor="middle" font-weight="normal" fill="#000" textLength="122.8" lengthAdjust="spacingAndGlyphs" stroke="#000" stroke-width="0.4">Wavelength (nm)</text>
<text transform="translate(38.3,546) rotate(-90)" font-size="14" stroke="#000" stroke-width="0.4" text-anchor="middle" textLength="84.3" lengthAdjust="spacingAndGlyphs">Absorbance</text>
<path d="M88 411 V682.6 H571.4" fill="none" stroke="#000" stroke-width="2"/>
<path d="M87.0 643.2 L88.0 643.4 L89.0 643.6 L90.0 643.8 L91.0 644.0 L92.0 644.3 L93.0 644.5 L94.0 644.7 L95.0 644.9 L96.0 645.2 L97.0 645.4 L98.0 645.7 L99.0 645.9 L100.0 646.2 L101.0 646.4 L102.0 646.7 L103.0 647.0 L104.0 647.3 L105.0 647.6 L106.0 647.9 L107.0 648.2 L108.0 648.5 L109.0 648.8 L110.0 649.1 L111.0 649.5 L112.0 649.8 L113.0 650.1 L114.0 650.4 L115.0 650.7 L116.0 651.0 L117.0 651.3 L118.0 651.6 L119.0 651.8 L120.0 652.1 L121.0 652.4 L122.0 652.6 L123.0 652.8 L124.0 653.1 L125.0 653.3 L126.0 653.5 L127.0 653.7 L128.0 653.9 L129.0 654.1 L130.0 654.3 L131.0 654.5 L132.0 654.7 L133.0 654.9 L134.0 655.1 L135.0 655.3 L136.0 655.5 L137.0 655.6 L138.0 655.8 L139.0 656.0 L140.0 656.2 L141.0 656.3 L142.0 656.5 L143.0 656.7 L144.0 656.8 L145.0 657.0 L146.0 657.1 L147.0 657.3 L148.0 657.4 L149.0 657.6 L150.0 657.7 L151.0 657.9 L152.0 658.0 L153.0 658.2 L154.0 658.3 L155.0 658.4 L156.0 658.6 L157.0 658.7 L158.0 658.9 L159.0 659.0 L160.0 659.2 L161.0 659.3 L162.0 659.5 L163.0 659.6 L164.0 659.8 L165.0 659.9 L166.0 660.1 L167.0 660.2 L168.0 660.4 L169.0 660.5 L170.0 660.7 L171.0 660.8 L172.0 661.0 L173.0 661.1 L174.0 661.3 L175.0 661.4 L176.0 661.6 L177.0 661.7 L178.0 661.9 L179.0 662.0 L180.0 662.2 L181.0 662.3 L182.0 662.4 L183.0 662.6 L184.0 662.7 L185.0 662.8 L186.0 663.0 L187.0 663.1 L188.0 663.2 L189.0 663.3 L190.0 663.5 L191.0 663.6 L192.0 663.7 L193.0 663.8 L194.0 664.0 L195.0 664.1 L196.0 664.2 L197.0 664.3 L198.0 664.4 L199.0 664.6 L200.0 664.7 L201.0 664.8 L202.0 664.9 L203.0 665.0 L204.0 665.1 L205.0 665.3 L206.0 665.4 L207.0 665.5 L208.0 665.6 L209.0 665.7 L210.0 665.8 L211.0 665.9 L212.0 666.1 L213.0 666.2 L214.0 666.3 L215.0 666.4 L216.0 666.5 L217.0 666.6 L218.0 666.7 L219.0 666.8 L220.0 666.9 L221.0 667.0 L222.0 667.1 L223.0 667.2 L224.0 667.3 L225.0 667.4 L226.0 667.5 L227.0 667.6 L228.0 667.7 L229.0 667.8 L230.0 667.8 L231.0 667.9 L232.0 668.0 L233.0 668.1 L234.0 668.2 L235.0 668.3 L236.0 668.4 L237.0 668.5 L238.0 668.5 L239.0 668.6 L240.0 668.7 L241.0 668.8 L242.0 668.9 L243.0 668.9 L244.0 669.0 L245.0 669.1 L246.0 669.2 L247.0 669.3 L248.0 669.3 L249.0 669.4 L250.0 669.5 L251.0 669.6 L252.0 669.7 L253.0 669.7 L254.0 669.8 L255.0 669.9 L256.0 670.0 L257.0 670.0 L258.0 670.1 L259.0 670.2 L260.0 670.3 L261.0 670.3 L262.0 670.4 L263.0 670.5 L264.0 670.6 L265.0 670.6 L266.0 670.7 L267.0 670.8 L268.0 670.8 L269.0 670.9 L270.0 671.0 L271.0 671.0 L272.0 671.1 L273.0 671.2 L274.0 671.3 L275.0 671.3 L276.0 671.4 L277.0 671.4 L278.0 671.5 L279.0 671.6 L280.0 671.6 L281.0 671.7 L282.0 671.8 L283.0 671.8 L284.0 671.9 L285.0 671.9 L286.0 672.0 L287.0 672.0 L288.0 672.1 L289.0 672.1 L290.0 672.2 L291.0 672.2 L292.0 672.3 L293.0 672.3 L294.0 672.4 L295.0 672.4 L296.0 672.5 L297.0 672.5 L298.0 672.6 L299.0 672.6 L300.0 672.7 L301.0 672.7 L302.0 672.8 L303.0 672.8 L304.0 672.8 L305.0 672.9 L306.0 672.9 L307.0 673.0 L308.0 673.0 L309.0 673.0 L310.0 673.1 L311.0 673.1 L312.0 673.2 L313.0 673.2 L314.0 673.2 L315.0 673.3 L316.0 673.3 L317.0 673.3 L318.0 673.4 L319.0 673.4 L320.0 673.4 L321.0 673.5 L322.0 673.5 L323.0 673.6 L324.0 673.6 L325.0 673.6 L326.0 673.7 L327.0 673.7 L328.0 673.7 L329.0 673.8 L330.0 673.8 L331.0 673.8 L332.0 673.9 L333.0 673.9 L334.0 673.9 L335.0 674.0 L336.0 674.0 L337.0 674.0 L338.0 674.1 L339.0 674.1 L340.0 674.1 L341.0 674.2 L342.0 674.2 L343.0 674.2 L344.0 674.3 L345.0 674.3 L346.0 674.3 L347.0 674.4 L348.0 674.4 L349.0 674.4 L350.0 674.5 L351.0 674.5 L352.0 674.5 L353.0 674.6 L354.0 674.6 L355.0 674.6 L356.0 674.7 L357.0 674.7 L358.0 674.7 L359.0 674.8 L360.0 674.8 L361.0 674.8 L362.0 674.8 L363.0 674.9 L364.0 674.9 L365.0 674.9 L366.0 675.0 L367.0 675.0 L368.0 675.0 L369.0 675.1 L370.0 675.1 L371.0 675.1 L372.0 675.2 L373.0 675.2 L374.0 675.2 L375.0 675.2 L376.0 675.3 L377.0 675.3 L378.0 675.3 L379.0 675.4 L380.0 675.4 L381.0 675.4 L382.0 675.5 L383.0 675.5 L384.0 675.5 L385.0 675.5 L386.0 675.6 L387.0 675.6 L388.0 675.6 L389.0 675.7 L390.0 675.7 L391.0 675.7 L392.0 675.7 L393.0 675.8 L394.0 675.8 L395.0 675.8 L396.0 675.9 L397.0 675.9 L398.0 675.9 L399.0 675.9 L400.0 676.0 L401.0 676.0 L402.0 676.0 L403.0 676.0 L404.0 676.1 L405.0 676.1 L406.0 676.1 L407.0 676.2 L408.0 676.2 L409.0 676.2 L410.0 676.2 L411.0 676.3 L412.0 676.3 L413.0 676.3 L414.0 676.3 L415.0 676.4 L416.0 676.4 L417.0 676.4 L418.0 676.4 L419.0 676.5 L420.0 676.5 L421.0 676.5 L422.0 676.5 L423.0 676.6 L424.0 676.6 L425.0 676.6 L426.0 676.7 L427.0 676.7 L428.0 676.7 L429.0 676.7 L430.0 676.8 L431.0 676.8 L432.0 676.8 L433.0 676.8 L434.0 676.9 L435.0 676.9 L436.0 676.9 L437.0 676.9 L438.0 677.0 L439.0 677.0 L440.0 677.0 L441.0 677.0 L442.0 677.0 L443.0 677.1 L444.0 677.1 L445.0 677.1 L446.0 677.1 L447.0 677.2 L448.0 677.2 L449.0 677.2 L450.0 677.3 L451.0 677.3 L452.0 677.3 L453.0 677.3 L454.0 677.4 L455.0 677.4 L456.0 677.4 L457.0 677.4 L458.0 677.5 L459.0 677.5 L460.0 677.5 L461.0 677.5 L462.0 677.6 L463.0 677.6 L464.0 677.6 L465.0 677.6 L466.0 677.7 L467.0 677.7 L468.0 677.7 L469.0 677.7 L470.0 677.8 L471.0 677.8 L472.0 677.8 L473.0 677.8 L474.0 677.8 L475.0 677.9 L476.0 677.9 L477.0 677.9 L478.0 677.9 L479.0 678.0 L480.0 678.0 L481.0 678.0 L482.0 678.0 L483.0 678.0 L484.0 678.1 L485.0 678.1 L486.0 678.1 L487.0 678.1 L488.0 678.1 L489.0 678.1 L490.0 678.2 L491.0 678.2 L492.0 678.2 L493.0 678.2 L494.0 678.2 L495.0 678.2 L496.0 678.3 L497.0 678.3 L498.0 678.3 L499.0 678.3 L500.0 678.3 L501.0 678.3 L502.0 678.3 L503.0 678.3 L504.0 678.3 L505.0 678.4 L506.0 678.4 L507.0 678.4 L508.0 678.4 L509.0 678.4 L510.0 678.4 L511.0 678.4 L512.0 678.4 L513.0 678.4 L514.0 678.4 L515.0 678.5 L516.0 678.5 L517.0 678.5 L518.0 678.5 L519.0 678.5 L520.0 678.5 L521.0 678.5 L522.0 678.5 L523.0 678.5 L524.0 678.5 L525.0 678.6 L526.0 678.6 L527.0 678.6 L528.0 678.6 L529.0 678.6 L530.0 678.6 L531.0 678.6 L532.0 678.6 L533.0 678.6 L534.0 678.6 L535.0 678.6 L536.0 678.7 L537.0 678.7 L538.0 678.7 L539.0 678.7 L540.0 678.7 L541.0 678.7 L542.0 678.7 L543.0 678.7 L544.0 678.7 L545.0 678.7 L546.0 678.7 L547.0 678.7 L548.0 678.7 L549.0 678.7 L550.0 678.7 L551.0 678.7 L552.0 678.8 L553.0 678.8 L554.0 678.8 L555.0 678.8 L556.0 678.8 L557.0 678.8 L558.0 678.8 L559.0 678.8 L560.0 678.8 L561.0 678.8 L562.0 678.8 L563.0 678.8 L564.0 678.8 L565.0 678.8 L566.0 678.8 L567.0 678.8 L568.0 678.8 L569.0 678.8 L570.0 678.8" fill="none" stroke="#ED7D31" stroke-width="2.4" stroke-linejoin="round"/>
<path d="M87.0 659.9 L88.0 660.1 L89.0 660.3 L90.0 660.4 L91.0 660.6 L92.0 660.8 L93.0 661.0 L94.0 661.2 L95.0 661.3 L96.0 661.5 L97.0 661.7 L98.0 661.9 L99.0 662.0 L100.0 662.2 L101.0 662.4 L102.0 662.5 L103.0 662.7 L104.0 662.8 L105.0 663.0 L106.0 663.2 L107.0 663.3 L108.0 663.5 L109.0 663.6 L110.0 663.8 L111.0 663.9 L112.0 664.1 L113.0 664.2 L114.0 664.4 L115.0 664.5 L116.0 664.7 L117.0 664.8 L118.0 665.0 L119.0 665.1 L120.0 665.3 L121.0 665.5 L122.0 665.6 L123.0 665.8 L124.0 666.0 L125.0 666.1 L126.0 666.3 L127.0 666.5 L128.0 666.7 L129.0 666.8 L130.0 667.0 L131.0 667.2 L132.0 667.4 L133.0 667.5 L134.0 667.7 L135.0 667.9 L136.0 668.0 L137.0 668.2 L138.0 668.4 L139.0 668.5 L140.0 668.7 L141.0 668.8 L142.0 669.0 L143.0 669.1 L144.0 669.3 L145.0 669.4 L146.0 669.6 L147.0 669.7 L148.0 669.9 L149.0 670.0 L150.0 670.2 L151.0 670.3 L152.0 670.4 L153.0 670.6 L154.0 670.7 L155.0 670.8 L156.0 671.0 L157.0 671.1 L158.0 671.2 L159.0 671.3 L160.0 671.4 L161.0 671.5 L162.0 671.6 L163.0 671.7 L164.0 671.8 L165.0 671.9 L166.0 671.9 L167.0 672.0 L168.0 672.0 L169.0 672.1 L170.0 672.1 L171.0 672.2 L172.0 672.2 L173.0 672.3 L174.0 672.3 L175.0 672.4 L176.0 672.4 L177.0 672.4 L178.0 672.5 L179.0 672.5 L180.0 672.5 L181.0 672.6 L182.0 672.6 L183.0 672.6 L184.0 672.7 L185.0 672.7 L186.0 672.7 L187.0 672.7 L188.0 672.8 L189.0 672.8 L190.0 672.8 L191.0 672.8 L192.0 672.9 L193.0 672.9 L194.0 672.9 L195.0 672.9 L196.0 673.0 L197.0 673.0 L198.0 673.0 L199.0 673.0 L200.0 673.1 L201.0 673.1 L202.0 673.1 L203.0 673.1 L204.0 673.1 L205.0 673.2 L206.0 673.2 L207.0 673.2 L208.0 673.2 L209.0 673.3 L210.0 673.3 L211.0 673.3 L212.0 673.3 L213.0 673.4 L214.0 673.4 L215.0 673.4 L216.0 673.4 L217.0 673.4 L218.0 673.5 L219.0 673.5 L220.0 673.5 L221.0 673.5 L222.0 673.6 L223.0 673.6 L224.0 673.6 L225.0 673.6 L226.0 673.7 L227.0 673.7 L228.0 673.7 L229.0 673.7 L230.0 673.8 L231.0 673.8 L232.0 673.8 L233.0 673.8 L234.0 673.8 L235.0 673.9 L236.0 673.9 L237.0 673.9 L238.0 673.9 L239.0 673.9 L240.0 674.0 L241.0 674.0 L242.0 674.0 L243.0 674.0 L244.0 674.1 L245.0 674.1 L246.0 674.1 L247.0 674.1 L248.0 674.2 L249.0 674.2 L250.0 674.2 L251.0 674.2 L252.0 674.3 L253.0 674.3 L254.0 674.3 L255.0 674.3 L256.0 674.4 L257.0 674.4 L258.0 674.4 L259.0 674.4 L260.0 674.5 L261.0 674.5 L262.0 674.5 L263.0 674.5 L264.0 674.6 L265.0 674.6 L266.0 674.6 L267.0 674.7 L268.0 674.7 L269.0 674.7 L270.0 674.7 L271.0 674.8 L272.0 674.8 L273.0 674.8 L274.0 674.9 L275.0 674.9 L276.0 674.9 L277.0 674.9 L278.0 675.0 L279.0 675.0 L280.0 675.0 L281.0 675.0 L282.0 675.0 L283.0 675.1 L284.0 675.1 L285.0 675.1 L286.0 675.1 L287.0 675.1 L288.0 675.2 L289.0 675.2 L290.0 675.2 L291.0 675.2 L292.0 675.2 L293.0 675.2 L294.0 675.3 L295.0 675.3 L296.0 675.3 L297.0 675.3 L298.0 675.3 L299.0 675.3 L300.0 675.3 L301.0 675.3 L302.0 675.4 L303.0 675.4 L304.0 675.4 L305.0 675.4 L306.0 675.4 L307.0 675.4 L308.0 675.4 L309.0 675.4 L310.0 675.4 L311.0 675.4 L312.0 675.4 L313.0 675.5 L314.0 675.5 L315.0 675.5 L316.0 675.5 L317.0 675.5 L318.0 675.5 L319.0 675.5 L320.0 675.5 L321.0 675.5 L322.0 675.5 L323.0 675.5 L324.0 675.5 L325.0 675.6 L326.0 675.6 L327.0 675.6 L328.0 675.6 L329.0 675.6 L330.0 675.6 L331.0 675.6 L332.0 675.6 L333.0 675.6 L334.0 675.6 L335.0 675.6 L336.0 675.6 L337.0 675.7 L338.0 675.7 L339.0 675.7 L340.0 675.7 L341.0 675.7 L342.0 675.7 L343.0 675.7 L344.0 675.7 L345.0 675.7 L346.0 675.8 L347.0 675.8 L348.0 675.8 L349.0 675.8 L350.0 675.8 L351.0 675.8 L352.0 675.8 L353.0 675.8 L354.0 675.9 L355.0 675.9 L356.0 675.9 L357.0 675.9 L358.0 675.9 L359.0 675.9 L360.0 675.9 L361.0 675.9 L362.0 676.0 L363.0 676.0 L364.0 676.0 L365.0 676.0 L366.0 676.0 L367.0 676.0 L368.0 676.1 L369.0 676.1 L370.0 676.1 L371.0 676.1 L372.0 676.1 L373.0 676.1 L374.0 676.1 L375.0 676.2 L376.0 676.2 L377.0 676.2 L378.0 676.2 L379.0 676.2 L380.0 676.2 L381.0 676.3 L382.0 676.3 L383.0 676.3 L384.0 676.3 L385.0 676.3 L386.0 676.3 L387.0 676.4 L388.0 676.4 L389.0 676.4 L390.0 676.4 L391.0 676.4 L392.0 676.5 L393.0 676.5 L394.0 676.5 L395.0 676.5 L396.0 676.5 L397.0 676.5 L398.0 676.6 L399.0 676.6 L400.0 676.6 L401.0 676.6 L402.0 676.6 L403.0 676.7 L404.0 676.7 L405.0 676.7 L406.0 676.7 L407.0 676.7 L408.0 676.8 L409.0 676.8 L410.0 676.8 L411.0 676.8 L412.0 676.8 L413.0 676.9 L414.0 676.9 L415.0 676.9 L416.0 676.9 L417.0 677.0 L418.0 677.0 L419.0 677.0 L420.0 677.0 L421.0 677.0 L422.0 677.1 L423.0 677.1 L424.0 677.1 L425.0 677.1 L426.0 677.2 L427.0 677.2 L428.0 677.2 L429.0 677.2 L430.0 677.3 L431.0 677.3 L432.0 677.3 L433.0 677.3 L434.0 677.4 L435.0 677.4 L436.0 677.4 L437.0 677.4 L438.0 677.4 L439.0 677.5 L440.0 677.5 L441.0 677.5 L442.0 677.6 L443.0 677.6 L444.0 677.6 L445.0 677.6 L446.0 677.7 L447.0 677.7 L448.0 677.7 L449.0 677.8 L450.0 677.8 L451.0 677.9 L452.0 677.9 L453.0 677.9 L454.0 678.0 L455.0 678.0 L456.0 678.0 L457.0 678.1 L458.0 678.1 L459.0 678.2 L460.0 678.2 L461.0 678.3 L462.0 678.3 L463.0 678.3 L464.0 678.4 L465.0 678.4 L466.0 678.5 L467.0 678.5 L468.0 678.5 L469.0 678.6 L470.0 678.6 L471.0 678.7 L472.0 678.7 L473.0 678.8 L474.0 678.8 L475.0 678.8 L476.0 678.9 L477.0 678.9 L478.0 678.9 L479.0 679.0 L480.0 679.0 L481.0 679.0 L482.0 679.1 L483.0 679.1 L484.0 679.1 L485.0 679.2 L486.0 679.2 L487.0 679.2 L488.0 679.3 L489.0 679.3 L490.0 679.3 L491.0 679.3 L492.0 679.3 L493.0 679.4 L494.0 679.4 L495.0 679.4 L496.0 679.4 L497.0 679.5 L498.0 679.5 L499.0 679.5 L500.0 679.5 L501.0 679.5 L502.0 679.6 L503.0 679.6 L504.0 679.6 L505.0 679.6 L506.0 679.6 L507.0 679.7 L508.0 679.7 L509.0 679.7 L510.0 679.7 L511.0 679.7 L512.0 679.8 L513.0 679.8 L514.0 679.8 L515.0 679.8 L516.0 679.8 L517.0 679.9 L518.0 679.9 L519.0 679.9 L520.0 679.9 L521.0 679.9 L522.0 680.0 L523.0 680.0 L524.0 680.0 L525.0 680.0 L526.0 680.0 L527.0 680.0 L528.0 680.1 L529.0 680.1 L530.0 680.1 L531.0 680.1 L532.0 680.1 L533.0 680.1 L534.0 680.2 L535.0 680.2 L536.0 680.2 L537.0 680.2 L538.0 680.2 L539.0 680.2 L540.0 680.2 L541.0 680.3 L542.0 680.3 L543.0 680.3 L544.0 680.3 L545.0 680.3 L546.0 680.3 L547.0 680.3 L548.0 680.3 L549.0 680.4 L550.0 680.4 L551.0 680.4 L552.0 680.4 L553.0 680.4 L554.0 680.4 L555.0 680.4 L556.0 680.4 L557.0 680.4 L558.0 680.4 L559.0 680.4 L560.0 680.5 L561.0 680.5 L562.0 680.5 L563.0 680.5 L564.0 680.5 L565.0 680.5 L566.0 680.5 L567.0 680.5 L568.0 680.5 L569.0 680.5 L570.0 680.5" fill="none" stroke="#BFBFBF" stroke-width="2.4" stroke-linejoin="round"/>
<path d="M88.0 498.6 L89.0 499.3 L90.0 500.0 L91.0 500.6 L92.0 501.3 L93.0 502.0 L94.0 502.7 L95.0 503.3 L96.0 504.0 L97.0 504.7 L98.0 505.4 L99.0 506.1 L100.0 506.8 L101.0 507.4 L102.0 508.1 L103.0 508.8 L104.0 509.5 L105.0 510.2 L106.0 510.9 L107.0 511.6 L108.0 512.3 L109.0 513.1 L110.0 513.9 L111.0 514.7 L112.0 515.6 L113.0 516.5 L114.0 517.3 L115.0 518.2 L116.0 519.1 L117.0 520.0 L118.0 520.8 L119.0 521.7 L120.0 522.6 L121.0 523.4 L122.0 524.2 L123.0 525.1 L124.0 525.9 L125.0 526.7 L126.0 527.6 L127.0 528.4 L128.0 529.2 L129.0 530.0 L130.0 530.8 L131.0 531.5 L132.0 532.3 L133.0 533.0 L134.0 533.7 L135.0 534.5 L136.0 535.1 L137.0 535.8 L138.0 536.5 L139.0 537.1 L140.0 537.7 L141.0 538.3 L142.0 538.8 L143.0 539.4 L144.0 539.9 L145.0 540.4 L146.0 540.9 L147.0 541.4 L148.0 541.8 L149.0 542.3 L150.0 542.7 L151.0 543.2 L152.0 543.6 L153.0 544.0 L154.0 544.4 L155.0 544.7 L156.0 545.1 L157.0 545.5 L158.0 545.8 L159.0 546.2 L160.0 546.6 L161.0 546.9 L162.0 547.3 L163.0 547.6 L164.0 548.0 L165.0 548.3 L166.0 548.7 L167.0 549.0 L168.0 549.4 L169.0 549.7 L170.0 550.1 L171.0 550.4 L172.0 550.8 L173.0 551.1 L174.0 551.4 L175.0 551.8 L176.0 552.1 L177.0 552.4 L178.0 552.7 L179.0 553.0 L180.0 553.3 L181.0 553.5 L182.0 553.8 L183.0 554.1 L184.0 554.3 L185.0 554.6 L186.0 554.8 L187.0 555.0 L188.0 555.3 L189.0 555.5 L190.0 555.8 L191.0 556.0 L192.0 556.3 L193.0 556.6 L194.0 556.8 L195.0 557.1 L196.0 557.4 L197.0 557.7 L198.0 558.0 L199.0 558.3 L200.0 558.6 L201.0 558.9 L202.0 559.3 L203.0 559.6 L204.0 560.0 L205.0 560.4 L206.0 560.8 L207.0 561.2 L208.0 561.7 L209.0 562.1 L210.0 562.6 L211.0 563.0 L212.0 563.5 L213.0 564.0 L214.0 564.5 L215.0 565.0 L216.0 565.5 L217.0 566.1 L218.0 566.6 L219.0 567.1 L220.0 567.7 L221.0 568.2 L222.0 568.8 L223.0 569.4 L224.0 569.9 L225.0 570.5 L226.0 571.1 L227.0 571.6 L228.0 572.1 L229.0 572.7 L230.0 573.2 L231.0 573.7 L232.0 574.3 L233.0 574.8 L234.0 575.4 L235.0 575.9 L236.0 576.5 L237.0 577.1 L238.0 577.7 L239.0 578.3 L240.0 578.9 L241.0 579.6 L242.0 580.3 L243.0 581.0 L244.0 581.7 L245.0 582.4 L246.0 583.1 L247.0 583.8 L248.0 584.5 L249.0 585.2 L250.0 586.0 L251.0 586.7 L252.0 587.4 L253.0 588.1 L254.0 588.7 L255.0 589.4 L256.0 590.1 L257.0 590.8 L258.0 591.5 L259.0 592.3 L260.0 593.0 L261.0 593.7 L262.0 594.4 L263.0 595.1 L264.0 595.9 L265.0 596.6 L266.0 597.4 L267.0 598.2 L268.0 598.9 L269.0 599.7 L270.0 600.4 L271.0 601.2 L272.0 601.9 L273.0 602.6 L274.0 603.3 L275.0 604.1 L276.0 604.8 L277.0 605.5 L278.0 606.1 L279.0 606.8 L280.0 607.5 L281.0 608.2 L282.0 608.9 L283.0 609.6 L284.0 610.2 L285.0 610.9 L286.0 611.6 L287.0 612.3 L288.0 613.0 L289.0 613.8 L290.0 614.5 L291.0 615.2 L292.0 616.0 L293.0 616.8 L294.0 617.5 L295.0 618.3 L296.0 619.1 L297.0 619.8 L298.0 620.6 L299.0 621.4 L300.0 622.2 L301.0 622.9 L302.0 623.7 L303.0 624.4 L304.0 625.1 L305.0 625.9 L306.0 626.6 L307.0 627.3 L308.0 628.0 L309.0 628.6 L310.0 629.3 L311.0 630.0 L312.0 630.6 L313.0 631.3 L314.0 631.9 L315.0 632.5 L316.0 633.2 L317.0 633.8 L318.0 634.4 L319.0 635.0 L320.0 635.6 L321.0 636.3 L322.0 636.9 L323.0 637.5 L324.0 638.1 L325.0 638.7 L326.0 639.2 L327.0 639.8 L328.0 640.4 L329.0 641.0 L330.0 641.6 L331.0 642.2 L332.0 642.8 L333.0 643.3 L334.0 643.9 L335.0 644.5 L336.0 645.1 L337.0 645.7 L338.0 646.2 L339.0 646.8 L340.0 647.4 L341.0 647.9 L342.0 648.5 L343.0 649.0 L344.0 649.6 L345.0 650.1 L346.0 650.6 L347.0 651.1 L348.0 651.6 L349.0 652.1 L350.0 652.6 L351.0 653.1 L352.0 653.5 L353.0 654.0 L354.0 654.5 L355.0 654.9 L356.0 655.4 L357.0 655.9 L358.0 656.3 L359.0 656.8 L360.0 657.2 L361.0 657.7 L362.0 658.1 L363.0 658.5 L364.0 659.0 L365.0 659.4 L366.0 659.8 L367.0 660.2 L368.0 660.6 L369.0 661.0 L370.0 661.4 L371.0 661.8 L372.0 662.1 L373.0 662.5 L374.0 662.8 L375.0 663.2 L376.0 663.5 L377.0 663.8 L378.0 664.1 L379.0 664.4 L380.0 664.7 L381.0 664.9 L382.0 665.2 L383.0 665.5 L384.0 665.7 L385.0 665.9 L386.0 666.2 L387.0 666.4 L388.0 666.6 L389.0 666.8 L390.0 667.1 L391.0 667.3 L392.0 667.5 L393.0 667.7 L394.0 667.9 L395.0 668.1 L396.0 668.2 L397.0 668.4 L398.0 668.6 L399.0 668.8 L400.0 669.0 L401.0 669.1 L402.0 669.3 L403.0 669.5 L404.0 669.7 L405.0 669.8 L406.0 670.0 L407.0 670.2 L408.0 670.4 L409.0 670.5 L410.0 670.7 L411.0 670.9 L412.0 671.0 L413.0 671.2 L414.0 671.4 L415.0 671.6 L416.0 671.7 L417.0 671.9 L418.0 672.1 L419.0 672.2 L420.0 672.4 L421.0 672.6 L422.0 672.8 L423.0 672.9 L424.0 673.1 L425.0 673.2 L426.0 673.4 L427.0 673.5 L428.0 673.7 L429.0 673.8 L430.0 674.0 L431.0 674.1 L432.0 674.3 L433.0 674.4 L434.0 674.5 L435.0 674.7 L436.0 674.8 L437.0 674.9 L438.0 675.0 L439.0 675.1 L440.0 675.2 L441.0 675.3 L442.0 675.4 L443.0 675.5 L444.0 675.6 L445.0 675.7 L446.0 675.7 L447.0 675.8 L448.0 675.9 L449.0 676.0 L450.0 676.1 L451.0 676.2 L452.0 676.2 L453.0 676.3 L454.0 676.4 L455.0 676.5 L456.0 676.6 L457.0 676.6 L458.0 676.7 L459.0 676.8 L460.0 676.9 L461.0 676.9 L462.0 677.0 L463.0 677.1 L464.0 677.1 L465.0 677.2 L466.0 677.3 L467.0 677.3 L468.0 677.4 L469.0 677.4 L470.0 677.5 L471.0 677.6 L472.0 677.6 L473.0 677.7 L474.0 677.7 L475.0 677.8 L476.0 677.8 L477.0 677.9 L478.0 677.9 L479.0 678.0 L480.0 678.0 L481.0 678.1 L482.0 678.1 L483.0 678.2 L484.0 678.2 L485.0 678.2 L486.0 678.3 L487.0 678.3 L488.0 678.3 L489.0 678.4 L490.0 678.4 L491.0 678.4 L492.0 678.5 L493.0 678.5 L494.0 678.5 L495.0 678.5 L496.0 678.6 L497.0 678.6 L498.0 678.6 L499.0 678.7 L500.0 678.7 L501.0 678.7 L502.0 678.7 L503.0 678.8 L504.0 678.8 L505.0 678.8 L506.0 678.8 L507.0 678.9 L508.0 678.9 L509.0 678.9 L510.0 678.9 L511.0 679.0 L512.0 679.0 L513.0 679.0 L514.0 679.0 L515.0 679.1 L516.0 679.1 L517.0 679.1 L518.0 679.1 L519.0 679.2 L520.0 679.2 L521.0 679.2 L522.0 679.2 L523.0 679.2 L524.0 679.3 L525.0 679.3 L526.0 679.3 L527.0 679.3 L528.0 679.3 L529.0 679.4 L530.0 679.4 L531.0 679.4 L532.0 679.4 L533.0 679.4 L534.0 679.5 L535.0 679.5 L536.0 679.5 L537.0 679.5 L538.0 679.5 L539.0 679.5 L540.0 679.6 L541.0 679.6 L542.0 679.6 L543.0 679.6 L544.0 679.6 L545.0 679.6 L546.0 679.6 L547.0 679.7 L548.0 679.7 L549.0 679.7 L550.0 679.7 L551.0 679.7 L552.0 679.7 L553.0 679.7 L554.0 679.7 L555.0 679.7 L556.0 679.7 L557.0 679.7 L558.0 679.8 L559.0 679.8 L560.0 679.8 L561.0 679.8 L562.0 679.8 L563.0 679.8 L564.0 679.8 L565.0 679.8 L566.0 679.8 L567.0 679.8 L568.0 679.8 L569.0 679.8 L570.0 679.8 L570.3 679.8" fill="none" stroke="#FFC000" stroke-width="2.4" stroke-linejoin="round"/>
<path d="M88.0 601.4 L89.0 601.3 L90.0 601.2 L91.0 601.1 L92.0 601.0 L93.0 600.8 L94.0 600.7 L95.0 600.5 L96.0 600.3 L97.0 600.1 L98.0 599.9 L99.0 599.6 L100.0 599.4 L101.0 599.1 L102.0 598.9 L103.0 598.6 L104.0 598.4 L105.0 598.2 L106.0 598.0 L107.0 597.8 L108.0 597.6 L109.0 597.5 L110.0 597.3 L111.0 597.2 L112.0 597.0 L113.0 596.9 L114.0 596.8 L115.0 596.6 L116.0 596.5 L117.0 596.4 L118.0 596.4 L119.0 596.3 L120.0 596.2 L121.0 596.2 L122.0 596.1 L123.0 596.0 L124.0 596.0 L125.0 595.9 L126.0 595.8 L127.0 595.6 L128.0 595.4 L129.0 595.2 L130.0 595.0 L131.0 594.7 L132.0 594.3 L133.0 594.0 L134.0 593.6 L135.0 593.1 L136.0 592.6 L137.0 592.0 L138.0 591.4 L139.0 590.7 L140.0 589.9 L141.0 589.1 L142.0 588.2 L143.0 587.4 L144.0 586.5 L145.0 585.6 L146.0 584.7 L147.0 583.8 L148.0 582.9 L149.0 581.9 L150.0 581.0 L151.0 580.1 L152.0 579.1 L153.0 578.2 L154.0 577.3 L155.0 576.3 L156.0 575.4 L157.0 574.5 L158.0 573.6 L159.0 572.7 L160.0 571.8 L161.0 570.8 L162.0 569.9 L163.0 569.0 L164.0 568.0 L165.0 567.0 L166.0 566.0 L167.0 565.0 L168.0 564.0 L169.0 562.9 L170.0 561.8 L171.0 560.7 L172.0 559.6 L173.0 558.4 L174.0 557.3 L175.0 556.1 L176.0 554.9 L177.0 553.7 L178.0 552.5 L179.0 551.3 L180.0 550.0 L181.0 548.7 L182.0 547.4 L183.0 546.1 L184.0 544.7 L185.0 543.4 L186.0 542.0 L187.0 540.7 L188.0 539.4 L189.0 538.1 L190.0 536.8 L191.0 535.6 L192.0 534.4 L193.0 533.2 L194.0 532.0 L195.0 530.9 L196.0 529.8 L197.0 528.6 L198.0 527.5 L199.0 526.4 L200.0 525.3 L201.0 524.3 L202.0 523.2 L203.0 522.1 L204.0 521.1 L205.0 520.0 L206.0 519.0 L207.0 517.9 L208.0 516.9 L209.0 515.8 L210.0 514.8 L211.0 513.8 L212.0 512.8 L213.0 511.8 L214.0 510.8 L215.0 509.8 L216.0 508.9 L217.0 508.0 L218.0 507.0 L219.0 506.1 L220.0 505.2 L221.0 504.4 L222.0 503.5 L223.0 502.7 L224.0 501.9 L225.0 501.0 L226.0 500.3 L227.0 499.5 L228.0 498.8 L229.0 498.1 L230.0 497.4 L231.0 496.7 L232.0 496.1 L233.0 495.4 L234.0 494.8 L235.0 494.2 L236.0 493.6 L237.0 493.0 L238.0 492.4 L239.0 491.8 L240.0 491.2 L241.0 490.6 L242.0 489.9 L243.0 489.3 L244.0 488.7 L245.0 488.0 L246.0 487.5 L247.0 486.9 L248.0 486.5 L249.0 486.0 L250.0 485.7 L251.0 485.3 L252.0 485.0 L253.0 484.8 L254.0 484.5 L255.0 484.3 L256.0 484.1 L257.0 483.8 L258.0 483.6 L259.0 483.4 L260.0 483.2 L261.0 482.9 L262.0 482.7 L263.0 482.4 L264.0 482.2 L265.0 482.0 L266.0 481.8 L267.0 481.6 L268.0 481.4 L269.0 481.3 L270.0 481.3 L271.0 481.2 L272.0 481.3 L273.0 481.3 L274.0 481.4 L275.0 481.6 L276.0 481.7 L277.0 481.8 L278.0 482.0 L279.0 482.1 L280.0 482.2 L281.0 482.3 L282.0 482.4 L283.0 482.5 L284.0 482.6 L285.0 482.7 L286.0 482.8 L287.0 483.0 L288.0 483.2 L289.0 483.5 L290.0 483.8 L291.0 484.1 L292.0 484.5 L293.0 484.9 L294.0 485.4 L295.0 485.9 L296.0 486.3 L297.0 486.8 L298.0 487.3 L299.0 487.8 L300.0 488.3 L301.0 488.8 L302.0 489.3 L303.0 489.8 L304.0 490.3 L305.0 490.8 L306.0 491.2 L307.0 491.7 L308.0 492.1 L309.0 492.5 L310.0 492.9 L311.0 493.3 L312.0 493.7 L313.0 494.0 L314.0 494.5 L315.0 494.9 L316.0 495.4 L317.0 495.9 L318.0 496.5 L319.0 497.1 L320.0 497.8 L321.0 498.5 L322.0 499.2 L323.0 499.9 L324.0 500.7 L325.0 501.4 L326.0 502.1 L327.0 502.8 L328.0 503.5 L329.0 504.2 L330.0 504.9 L331.0 505.6 L332.0 506.3 L333.0 507.0 L334.0 507.7 L335.0 508.4 L336.0 509.1 L337.0 509.8 L338.0 510.5 L339.0 511.3 L340.0 512.0 L341.0 512.8 L342.0 513.6 L343.0 514.4 L344.0 515.2 L345.0 516.0 L346.0 516.8 L347.0 517.7 L348.0 518.5 L349.0 519.4 L350.0 520.2 L351.0 521.1 L352.0 522.0 L353.0 522.8 L354.0 523.7 L355.0 524.5 L356.0 525.4 L357.0 526.2 L358.0 527.1 L359.0 527.9 L360.0 528.8 L361.0 529.7 L362.0 530.5 L363.0 531.4 L364.0 532.2 L365.0 533.1 L366.0 534.0 L367.0 534.8 L368.0 535.7 L369.0 536.6 L370.0 537.4 L371.0 538.3 L372.0 539.2 L373.0 540.0 L374.0 540.9 L375.0 541.8 L376.0 542.7 L377.0 543.5 L378.0 544.4 L379.0 545.3 L380.0 546.2 L381.0 547.1 L382.0 547.9 L383.0 548.8 L384.0 549.6 L385.0 550.5 L386.0 551.3 L387.0 552.1 L388.0 552.9 L389.0 553.7 L390.0 554.4 L391.0 555.2 L392.0 556.0 L393.0 556.8 L394.0 557.6 L395.0 558.4 L396.0 559.2 L397.0 560.0 L398.0 560.8 L399.0 561.7 L400.0 562.5 L401.0 563.4 L402.0 564.3 L403.0 565.2 L404.0 566.1 L405.0 567.0 L406.0 567.9 L407.0 568.8 L408.0 569.7 L409.0 570.6 L410.0 571.5 L411.0 572.4 L412.0 573.3 L413.0 574.3 L414.0 575.2 L415.0 576.1 L416.0 577.0 L417.0 577.9 L418.0 578.9 L419.0 579.8 L420.0 580.7 L421.0 581.6 L422.0 582.6 L423.0 583.5 L424.0 584.4 L425.0 585.3 L426.0 586.3 L427.0 587.2 L428.0 588.1 L429.0 589.0 L430.0 589.8 L431.0 590.7 L432.0 591.5 L433.0 592.3 L434.0 593.1 L435.0 593.9 L436.0 594.6 L437.0 595.3 L438.0 596.0 L439.0 596.7 L440.0 597.4 L441.0 598.1 L442.0 598.8 L443.0 599.5 L444.0 600.2 L445.0 600.9 L446.0 601.6 L447.0 602.3 L448.0 603.1 L449.0 603.8 L450.0 604.6 L451.0 605.3 L452.0 606.1 L453.0 606.8 L454.0 607.6 L455.0 608.3 L456.0 609.1 L457.0 609.8 L458.0 610.5 L459.0 611.2 L460.0 611.9 L461.0 612.6 L462.0 613.3 L463.0 614.0 L464.0 614.6 L465.0 615.3 L466.0 615.9 L467.0 616.6 L468.0 617.2 L469.0 617.8 L470.0 618.5 L471.0 619.1 L472.0 619.7 L473.0 620.3 L474.0 620.9 L475.0 621.6 L476.0 622.2 L477.0 622.8 L478.0 623.4 L479.0 624.0 L480.0 624.5 L481.0 625.1 L482.0 625.7 L483.0 626.3 L484.0 626.9 L485.0 627.5 L486.0 628.1 L487.0 628.7 L488.0 629.4 L489.0 630.0 L490.0 630.6 L491.0 631.2 L492.0 631.8 L493.0 632.4 L494.0 633.0 L495.0 633.6 L496.0 634.1 L497.0 634.7 L498.0 635.2 L499.0 635.7 L500.0 636.2 L501.0 636.7 L502.0 637.2 L503.0 637.6 L504.0 638.1 L505.0 638.6 L506.0 639.0 L507.0 639.5 L508.0 639.9 L509.0 640.4 L510.0 640.8 L511.0 641.3 L512.0 641.8 L513.0 642.2 L514.0 642.7 L515.0 643.1 L516.0 643.6 L517.0 644.0 L518.0 644.4 L519.0 644.8 L520.0 645.2 L521.0 645.5 L522.0 645.9 L523.0 646.2 L524.0 646.6 L525.0 646.9 L526.0 647.3 L527.0 647.7 L528.0 648.1 L529.0 648.6 L530.0 649.1 L531.0 649.6 L532.0 650.1 L533.0 650.6 L534.0 651.1 L535.0 651.6 L536.0 652.0 L537.0 652.4 L538.0 652.7 L539.0 653.1 L540.0 653.4 L541.0 653.7 L542.0 653.9 L543.0 654.2 L544.0 654.5 L545.0 654.8 L546.0 655.1 L547.0 655.4 L548.0 655.7 L549.0 655.9 L550.0 656.2 L551.0 656.5 L552.0 656.9 L553.0 657.2 L554.0 657.5 L555.0 657.9 L556.0 658.3 L557.0 658.7 L558.0 659.1 L559.0 659.5 L560.0 659.9 L561.0 660.3 L562.0 660.7 L563.0 661.1 L564.0 661.4 L565.0 661.7 L566.0 662.0 L567.0 662.3 L568.0 662.6 L569.0 662.8 L570.0 663.1" fill="none" stroke="#3CA83A" stroke-width="2.4" stroke-linejoin="round"/>
<path d="M88.0 586.4 L89.0 586.4 L90.0 586.4 L91.0 586.4 L92.0 586.4 L93.0 586.4 L94.0 586.4 L95.0 586.4 L96.0 586.4 L97.0 586.4 L98.0 586.4 L99.0 586.4 L100.0 586.4 L101.0 586.4 L102.0 586.4 L103.0 586.4 L104.0 586.4 L105.0 586.4 L106.0 586.4 L107.0 586.4 L108.0 586.4 L109.0 586.4 L110.0 586.4 L111.0 586.4 L112.0 586.4 L113.0 586.4 L114.0 586.4 L115.0 586.4 L116.0 586.4 L117.0 586.4 L118.0 586.4 L119.0 586.4 L120.0 586.4 L121.0 586.4 L122.0 586.4 L123.0 586.4 L124.0 586.4 L125.0 586.4 L126.0 586.3 L127.0 586.3 L128.0 586.2 L129.0 586.0 L130.0 585.8 L131.0 585.5 L132.0 585.2 L133.0 584.8 L134.0 584.3 L135.0 583.8 L136.0 583.3 L137.0 582.7 L138.0 582.0 L139.0 581.3 L140.0 580.5 L141.0 579.8 L142.0 579.0 L143.0 578.3 L144.0 577.6 L145.0 576.9 L146.0 576.2 L147.0 575.5 L148.0 574.8 L149.0 574.1 L150.0 573.4 L151.0 572.6 L152.0 571.7 L153.0 570.9 L154.0 570.0 L155.0 569.1 L156.0 568.2 L157.0 567.3 L158.0 566.3 L159.0 565.3 L160.0 564.3 L161.0 563.2 L162.0 562.2 L163.0 561.1 L164.0 559.9 L165.0 558.7 L166.0 557.5 L167.0 556.3 L168.0 555.0 L169.0 553.8 L170.0 552.5 L171.0 551.3 L172.0 550.1 L173.0 549.0 L174.0 547.9 L175.0 546.8 L176.0 545.8 L177.0 544.7 L178.0 543.7 L179.0 542.7 L180.0 541.6 L181.0 540.5 L182.0 539.4 L183.0 538.3 L184.0 537.0 L185.0 535.8 L186.0 534.4 L187.0 533.0 L188.0 531.5 L189.0 530.0 L190.0 528.5 L191.0 526.9 L192.0 525.3 L193.0 523.8 L194.0 522.3 L195.0 520.9 L196.0 519.5 L197.0 518.2 L198.0 516.9 L199.0 515.7 L200.0 514.6 L201.0 513.4 L202.0 512.4 L203.0 511.3 L204.0 510.3 L205.0 509.2 L206.0 508.2 L207.0 507.2 L208.0 506.2 L209.0 505.2 L210.0 504.2 L211.0 503.2 L212.0 502.2 L213.0 501.2 L214.0 500.2 L215.0 499.2 L216.0 498.2 L217.0 497.3 L218.0 496.4 L219.0 495.5 L220.0 494.7 L221.0 493.9 L222.0 493.1 L223.0 492.4 L224.0 491.6 L225.0 490.9 L226.0 490.3 L227.0 489.6 L228.0 488.9 L229.0 488.3 L230.0 487.6 L231.0 487.0 L232.0 486.4 L233.0 485.8 L234.0 485.2 L235.0 484.6 L236.0 484.0 L237.0 483.4 L238.0 482.8 L239.0 482.1 L240.0 481.5 L241.0 480.9 L242.0 480.2 L243.0 479.5 L244.0 478.9 L245.0 478.3 L246.0 477.7 L247.0 477.2 L248.0 476.7 L249.0 476.4 L250.0 476.0 L251.0 475.8 L252.0 475.5 L253.0 475.3 L254.0 475.1 L255.0 474.9 L256.0 474.7 L257.0 474.6 L258.0 474.4 L259.0 474.2 L260.0 474.0 L261.0 473.8 L262.0 473.6 L263.0 473.4 L264.0 473.2 L265.0 473.1 L266.0 472.9 L267.0 472.8 L268.0 472.8 L269.0 472.7 L270.0 472.7 L271.0 472.7 L272.0 472.7 L273.0 472.8 L274.0 472.8 L275.0 472.8 L276.0 472.9 L277.0 472.9 L278.0 473.0 L279.0 473.1 L280.0 473.2 L281.0 473.3 L282.0 473.5 L283.0 473.7 L284.0 473.9 L285.0 474.2 L286.0 474.4 L287.0 474.7 L288.0 474.9 L289.0 475.2 L290.0 475.5 L291.0 475.9 L292.0 476.2 L293.0 476.6 L294.0 476.9 L295.0 477.3 L296.0 477.7 L297.0 478.2 L298.0 478.6 L299.0 479.0 L300.0 479.5 L301.0 480.0 L302.0 480.5 L303.0 481.0 L304.0 481.5 L305.0 482.0 L306.0 482.5 L307.0 483.0 L308.0 483.5 L309.0 484.0 L310.0 484.5 L311.0 485.0 L312.0 485.4 L313.0 485.9 L314.0 486.5 L315.0 487.0 L316.0 487.6 L317.0 488.3 L318.0 488.9 L319.0 489.7 L320.0 490.4 L321.0 491.2 L322.0 492.1 L323.0 492.9 L324.0 493.7 L325.0 494.5 L326.0 495.3 L327.0 496.0 L328.0 496.8 L329.0 497.5 L330.0 498.2 L331.0 498.9 L332.0 499.6 L333.0 500.2 L334.0 500.9 L335.0 501.6 L336.0 502.3 L337.0 503.0 L338.0 503.7 L339.0 504.5 L340.0 505.2 L341.0 506.0 L342.0 506.8 L343.0 507.6 L344.0 508.5 L345.0 509.3 L346.0 510.1 L347.0 511.0 L348.0 511.9 L349.0 512.7 L350.0 513.6 L351.0 514.5 L352.0 515.4 L353.0 516.3 L354.0 517.2 L355.0 518.1 L356.0 519.0 L357.0 519.9 L358.0 520.8 L359.0 521.7 L360.0 522.7 L361.0 523.6 L362.0 524.5 L363.0 525.5 L364.0 526.4 L365.0 527.3 L366.0 528.3 L367.0 529.2 L368.0 530.2 L369.0 531.1 L370.0 532.0 L371.0 532.9 L372.0 533.9 L373.0 534.8 L374.0 535.7 L375.0 536.6 L376.0 537.5 L377.0 538.3 L378.0 539.2 L379.0 540.1 L380.0 541.0 L381.0 541.8 L382.0 542.7 L383.0 543.6 L384.0 544.5 L385.0 545.3 L386.0 546.2 L387.0 547.1 L388.0 548.0 L389.0 548.8 L390.0 549.7 L391.0 550.6 L392.0 551.5 L393.0 552.4 L394.0 553.3 L395.0 554.2 L396.0 555.1 L397.0 556.1 L398.0 557.0 L399.0 558.0 L400.0 559.0 L401.0 560.1 L402.0 561.1 L403.0 562.1 L404.0 563.1 L405.0 564.1 L406.0 565.1 L407.0 566.1 L408.0 567.0 L409.0 567.9 L410.0 568.7 L411.0 569.6 L412.0 570.4 L413.0 571.2 L414.0 572.0 L415.0 572.7 L416.0 573.5 L417.0 574.3 L418.0 575.2 L419.0 576.0 L420.0 576.9 L421.0 577.8 L422.0 578.7 L423.0 579.6 L424.0 580.6 L425.0 581.5 L426.0 582.5 L427.0 583.5 L428.0 584.5 L429.0 585.4 L430.0 586.4 L431.0 587.3 L432.0 588.2 L433.0 589.0 L434.0 589.9 L435.0 590.7 L436.0 591.5 L437.0 592.3 L438.0 593.1 L439.0 593.8 L440.0 594.6 L441.0 595.3 L442.0 596.1 L443.0 596.8 L444.0 597.5 L445.0 598.2 L446.0 599.0 L447.0 599.7 L448.0 600.4 L449.0 601.1 L450.0 601.8 L451.0 602.5 L452.0 603.2 L453.0 603.8 L454.0 604.5 L455.0 605.2 L456.0 605.9 L457.0 606.6 L458.0 607.3 L459.0 608.0 L460.0 608.7 L461.0 609.4 L462.0 610.1 L463.0 610.8 L464.0 611.5 L465.0 612.2 L466.0 612.9 L467.0 613.6 L468.0 614.3 L469.0 615.0 L470.0 615.7 L471.0 616.4 L472.0 617.1 L473.0 617.9 L474.0 618.6 L475.0 619.3 L476.0 620.0 L477.0 620.7 L478.0 621.4 L479.0 622.1 L480.0 622.8 L481.0 623.5 L482.0 624.2 L483.0 624.9 L484.0 625.6 L485.0 626.2 L486.0 626.9 L487.0 627.5 L488.0 628.1 L489.0 628.8 L490.0 629.4 L491.0 630.0 L492.0 630.6 L493.0 631.2 L494.0 631.7 L495.0 632.3 L496.0 632.9 L497.0 633.4 L498.0 633.9 L499.0 634.4 L500.0 634.9 L501.0 635.4 L502.0 635.8 L503.0 636.3 L504.0 636.7 L505.0 637.2 L506.0 637.6 L507.0 638.0 L508.0 638.5 L509.0 638.9 L510.0 639.4 L511.0 639.9 L512.0 640.3 L513.0 640.8 L514.0 641.3 L515.0 641.8 L516.0 642.3 L517.0 642.8 L518.0 643.2 L519.0 643.7 L520.0 644.2 L521.0 644.7 L522.0 645.1 L523.0 645.6 L524.0 646.0 L525.0 646.5 L526.0 646.9 L527.0 647.4 L528.0 647.8 L529.0 648.3 L530.0 648.7 L531.0 649.1 L532.0 649.5 L533.0 649.9 L534.0 650.3 L535.0 650.7 L536.0 651.1 L537.0 651.4 L538.0 651.7 L539.0 652.1 L540.0 652.4 L541.0 652.7 L542.0 653.0 L543.0 653.3 L544.0 653.6 L545.0 653.9 L546.0 654.1 L547.0 654.4 L548.0 654.7 L549.0 655.0 L550.0 655.3 L551.0 655.6 L552.0 655.9 L553.0 656.2 L554.0 656.5 L555.0 656.8 L556.0 657.1 L557.0 657.5 L558.0 657.8 L559.0 658.2 L560.0 658.5 L561.0 658.9 L562.0 659.2 L563.0 659.6 L564.0 659.9 L565.0 660.3 L566.0 660.7 L567.0 661.1 L568.0 661.4 L569.0 661.8 L570.0 662.2" fill="none" stroke="#1A90D8" stroke-width="2.4" stroke-linejoin="round"/>
<path d="M279.2 472.8 L319.4 446.3 H327.4" fill="none" stroke="#B0B0B0" stroke-width="1"/>
<path d="M273.1 482.5 L291.2 507.6" fill="none" stroke="#B0B0B0" stroke-width="1"/>
<path d="M307.2 626.8 L325.6 602.9 H332.3" fill="none" stroke="#B0B0B0" stroke-width="1"/>
<path d="M130.7 666.4 L145.8 631.8 H153.9" fill="none" stroke="#B0B0B0" stroke-width="1"/>
<path d="M185 663.4 L201.1 650.7 H206.8" fill="none" stroke="#B0B0B0" stroke-width="1"/>
<text x="365.6" y="442.6" font-size="13" text-anchor="start" font-weight="normal" fill="#000" textLength="68.4" lengthAdjust="spacingAndGlyphs" stroke="#000" stroke-width="0.4">S2 to pH 3,</text>
<text x="335.5" y="461.3" font-size="13" text-anchor="start" font-weight="normal" fill="#000" textLength="124.7" lengthAdjust="spacingAndGlyphs" stroke="#000" stroke-width="0.4">30 µM Fe(III) added</text>
<text x="239.9" y="531.5" font-size="13" text-anchor="start" font-weight="normal" fill="#000" textLength="103.2" lengthAdjust="spacingAndGlyphs" stroke="#000" stroke-width="0.4">positive control:</text>
<text x="210.7" y="550.6" font-size="13" text-anchor="start" font-weight="normal" fill="#000" textLength="159.4" lengthAdjust="spacingAndGlyphs" stroke="#000" stroke-width="0.4">pH 3 buffer, 30 µM Fe(III)</text>
<text x="338" y="609.4" font-size="13" text-anchor="start" font-weight="normal" fill="#000" textLength="66" lengthAdjust="spacingAndGlyphs" stroke="#000" stroke-width="0.4">S2 + Fe(III)</text>
<text x="159.5" y="638.2" font-size="13" text-anchor="start" font-weight="normal" fill="#000" textLength="63.3" lengthAdjust="spacingAndGlyphs" stroke="#000" stroke-width="0.4">S2 at pH 3</text>
<text x="212.8" y="657.3" font-size="13" text-anchor="start" font-weight="normal" fill="#000" textLength="14.5" lengthAdjust="spacingAndGlyphs" stroke="#000" stroke-width="0.4">S2</text>
<text x="0" y="0" font-size="1" text-anchor="start" font-weight="normal" fill="#000" stroke="#000" stroke-width="0.4"></text>
<rect x="663" y="202" width="61.0" height="2.1" fill="#ED7D31"/>
<rect x="779" y="198.8" width="63.4" height="5.3" fill="#BBBBBB"/>
<rect x="897.6" y="167.5" width="62.4" height="36.6" fill="#FFC000"/>
<rect x="1015.8" y="48.6" width="61.9" height="155.5" fill="#1B6FC8"/>
<rect x="1134" y="52.1" width="62.0" height="152.0" fill="#46AE3C"/>
<path d="M634.5 204.4 H1224" stroke="#000" stroke-width="1.3"/>
<text x="693" y="190.5" font-size="13" text-anchor="middle" font-weight="normal" fill="#000" stroke="#000" stroke-width="0.3">1%</text>
<text x="811" y="187.2" font-size="13" text-anchor="middle" font-weight="normal" fill="#000" stroke="#000" stroke-width="0.3">3%</text>
<text x="929" y="155.5" font-size="13" text-anchor="middle" font-weight="normal" fill="#000" stroke="#000" stroke-width="0.3">24%</text>
<text x="1047" y="38.5" font-size="13" text-anchor="middle" font-weight="normal" fill="#000" stroke="#000" stroke-width="0.3">102%</text>
<text x="1165" y="40.5" font-size="13" text-anchor="middle" font-weight="normal" fill="#000" stroke="#000" stroke-width="0.3">100%</text>
<text transform="translate(653.5,112) rotate(-90)" font-size="14" stroke="#000" stroke-width="0.25" text-anchor="middle" textLength="164" lengthAdjust="spacingAndGlyphs">Relative Absorbance at</text>
<text transform="translate(674.2,112) rotate(-90)" font-size="14" stroke="#000" stroke-width="0.25" text-anchor="middle" textLength="50" lengthAdjust="spacingAndGlyphs">510 nm</text>
<text x="685" y="228.8" font-size="13" text-anchor="start" font-weight="normal" fill="#000" textLength="15" lengthAdjust="spacingAndGlyphs" stroke="#000" stroke-width="0.3">S1</text>
<text x="779" y="228.8" font-size="13" text-anchor="start" font-weight="normal" fill="#000" textLength="63.7" lengthAdjust="spacingAndGlyphs" stroke="#000" stroke-width="0.3">S1 at pH 3</text>
<text x="896" y="228.8" font-size="13" text-anchor="start" font-weight="normal" fill="#000" textLength="66.4" lengthAdjust="spacingAndGlyphs" stroke="#000" stroke-width="0.3">S1 + Fe(III)</text>
<text x="989.5" y="228.8" font-size="13" text-anchor="start" font-weight="normal" fill="#000" textLength="115.5" lengthAdjust="spacingAndGlyphs" stroke="#000" stroke-width="0.3">S1 at pH 3 + Fe(III)</text>
<text x="1113.6" y="228.8" font-size="13" text-anchor="start" font-weight="normal" fill="#000" textLength="102.8" lengthAdjust="spacingAndGlyphs" stroke="#000" stroke-width="0.3">positive control:</text>
<text x="1124.7" y="248" font-size="13" text-anchor="start" font-weight="normal" fill="#000" textLength="80.9" lengthAdjust="spacingAndGlyphs" stroke="#000" stroke-width="0.3">30 µM Fe(III)</text>
<rect x="662.8" y="564.3" width="60.0" height="7.7" fill="#ED7D31"/>
<rect x="779.4" y="567.7" width="61.6" height="4.3" fill="#BBBBBB"/>
<rect x="896.2" y="508" width="61.2" height="64.0" fill="#FFC000"/>
<rect x="1014" y="416.4" width="60.3" height="155.6" fill="#1B6FC8"/>
<rect x="1130.8" y="421.4" width="61.7" height="150.6" fill="#46AE3C"/>
<path d="M634.2 572 H1218.4" stroke="#000" stroke-opacity="0.45" stroke-width="1.8"/>
<text x="693" y="553.5" font-size="13" text-anchor="middle" font-weight="normal" fill="#000" stroke="#000" stroke-width="0.3">5%</text>
<text x="810" y="555.9" font-size="13" text-anchor="middle" font-weight="normal" fill="#000" stroke="#000" stroke-width="0.3">3%</text>
<text x="927" y="496.8" font-size="13" text-anchor="middle" font-weight="normal" fill="#000" stroke="#000" stroke-width="0.3">43%</text>
<text x="1044.5" y="404.3" font-size="13" text-anchor="middle" font-weight="normal" fill="#000" stroke="#000" stroke-width="0.3">104%</text>
<text x="1161" y="411" font-size="13" text-anchor="middle" font-weight="normal" fill="#000" stroke="#000" stroke-width="0.3">100%</text>
<text transform="translate(648.5,482) rotate(-90)" font-size="14" stroke="#000" stroke-width="0.25" text-anchor="middle" textLength="163" lengthAdjust="spacingAndGlyphs">Relative Absorbance at</text>
<text transform="translate(668,482) rotate(-90)" font-size="14" stroke="#000" stroke-width="0.25" text-anchor="middle" textLength="53" lengthAdjust="spacingAndGlyphs">510 nm</text>
<text x="685.7" y="597.7" font-size="13" text-anchor="start" font-weight="normal" fill="#000" textLength="14.5" lengthAdjust="spacingAndGlyphs" stroke="#000" stroke-width="0.3">S2</text>
<text x="778.4" y="597.7" font-size="13" text-anchor="start" font-weight="normal" fill="#000" textLength="64.0" lengthAdjust="spacingAndGlyphs" stroke="#000" stroke-width="0.3">S2 at pH 3</text>
<text x="894.1" y="598" font-size="13" text-anchor="start" font-weight="normal" fill="#000" textLength="66.0" lengthAdjust="spacingAndGlyphs" stroke="#000" stroke-width="0.3">S2 + Fe(III)</text>
<text x="987" y="598" font-size="13" text-anchor="start" font-weight="normal" fill="#000" textLength="115.2" lengthAdjust="spacingAndGlyphs" stroke="#000" stroke-width="0.3">S2 at pH 3 + Fe(III)</text>
<text x="1110" y="598" font-size="13" text-anchor="start" font-weight="normal" fill="#000" textLength="102.7" lengthAdjust="spacingAndGlyphs" stroke="#000" stroke-width="0.3">positive control:</text>
<text x="1120.7" y="617" font-size="13" text-anchor="start" font-weight="normal" fill="#000" textLength="81.9" lengthAdjust="spacingAndGlyphs" stroke="#000" stroke-width="0.3">30 µM Fe(III)</text>
</svg>
</body></html>
